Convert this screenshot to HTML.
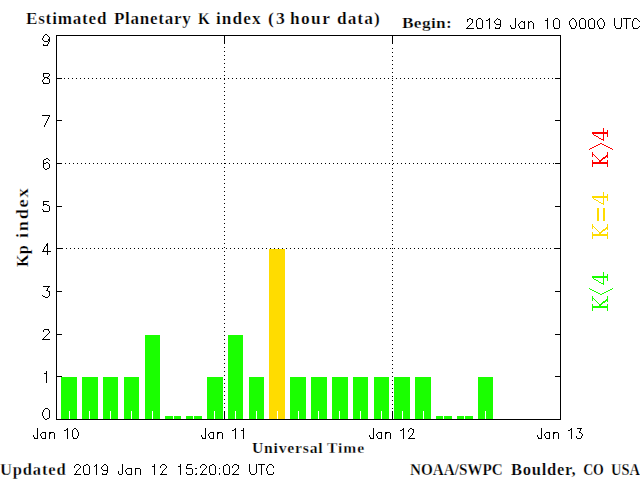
<!DOCTYPE html>
<html><head><meta charset="utf-8"><style>
html,body{margin:0;padding:0;background:#fff;width:640px;height:480px;overflow:hidden}
svg{display:block}
</style></head><body>
<svg width="640" height="480" viewBox="0 0 640 480">
<rect x="0" y="0" width="640" height="480" fill="#fff"/>
<g shape-rendering="crispEdges">
<rect x="56" y="35" width="505" height="1" fill="#000"/>
<rect x="56" y="419" width="505" height="1" fill="#000"/>
<rect x="56" y="35" width="1" height="385" fill="#000"/>
<rect x="560" y="35" width="1" height="385" fill="#000"/>
<rect x="57" y="376" width="5" height="1" fill="#000"/>
<rect x="555" y="376" width="5" height="1" fill="#000"/>
<rect x="57" y="334" width="5" height="1" fill="#000"/>
<rect x="555" y="334" width="5" height="1" fill="#000"/>
<rect x="57" y="291" width="5" height="1" fill="#000"/>
<rect x="555" y="291" width="5" height="1" fill="#000"/>
<rect x="57" y="248" width="6" height="1" fill="#000"/>
<rect x="554" y="248" width="6" height="1" fill="#000"/>
<rect x="57" y="206" width="5" height="1" fill="#000"/>
<rect x="555" y="206" width="5" height="1" fill="#000"/>
<rect x="57" y="163" width="5" height="1" fill="#000"/>
<rect x="555" y="163" width="5" height="1" fill="#000"/>
<rect x="57" y="120" width="5" height="1" fill="#000"/>
<rect x="555" y="120" width="5" height="1" fill="#000"/>
<rect x="57" y="78" width="5" height="1" fill="#000"/>
<rect x="555" y="78" width="5" height="1" fill="#000"/>
<rect x="64" y="78" width="1" height="1" fill="#000"/>
<rect x="68" y="78" width="1" height="1" fill="#000"/>
<rect x="72" y="78" width="1" height="1" fill="#000"/>
<rect x="76" y="78" width="1" height="1" fill="#000"/>
<rect x="80" y="78" width="1" height="1" fill="#000"/>
<rect x="84" y="78" width="1" height="1" fill="#000"/>
<rect x="88" y="78" width="1" height="1" fill="#000"/>
<rect x="92" y="78" width="1" height="1" fill="#000"/>
<rect x="96" y="78" width="1" height="1" fill="#000"/>
<rect x="100" y="78" width="1" height="1" fill="#000"/>
<rect x="104" y="78" width="1" height="1" fill="#000"/>
<rect x="108" y="78" width="1" height="1" fill="#000"/>
<rect x="112" y="78" width="1" height="1" fill="#000"/>
<rect x="116" y="78" width="1" height="1" fill="#000"/>
<rect x="120" y="78" width="1" height="1" fill="#000"/>
<rect x="124" y="78" width="1" height="1" fill="#000"/>
<rect x="128" y="78" width="1" height="1" fill="#000"/>
<rect x="132" y="78" width="1" height="1" fill="#000"/>
<rect x="136" y="78" width="1" height="1" fill="#000"/>
<rect x="140" y="78" width="1" height="1" fill="#000"/>
<rect x="144" y="78" width="1" height="1" fill="#000"/>
<rect x="148" y="78" width="1" height="1" fill="#000"/>
<rect x="152" y="78" width="1" height="1" fill="#000"/>
<rect x="156" y="78" width="1" height="1" fill="#000"/>
<rect x="160" y="78" width="1" height="1" fill="#000"/>
<rect x="164" y="78" width="1" height="1" fill="#000"/>
<rect x="168" y="78" width="1" height="1" fill="#000"/>
<rect x="172" y="78" width="1" height="1" fill="#000"/>
<rect x="176" y="78" width="1" height="1" fill="#000"/>
<rect x="180" y="78" width="1" height="1" fill="#000"/>
<rect x="184" y="78" width="1" height="1" fill="#000"/>
<rect x="188" y="78" width="1" height="1" fill="#000"/>
<rect x="192" y="78" width="1" height="1" fill="#000"/>
<rect x="196" y="78" width="1" height="1" fill="#000"/>
<rect x="200" y="78" width="1" height="1" fill="#000"/>
<rect x="204" y="78" width="1" height="1" fill="#000"/>
<rect x="208" y="78" width="1" height="1" fill="#000"/>
<rect x="212" y="78" width="1" height="1" fill="#000"/>
<rect x="216" y="78" width="1" height="1" fill="#000"/>
<rect x="220" y="78" width="1" height="1" fill="#000"/>
<rect x="224" y="78" width="1" height="1" fill="#000"/>
<rect x="228" y="78" width="1" height="1" fill="#000"/>
<rect x="232" y="78" width="1" height="1" fill="#000"/>
<rect x="236" y="78" width="1" height="1" fill="#000"/>
<rect x="240" y="78" width="1" height="1" fill="#000"/>
<rect x="244" y="78" width="1" height="1" fill="#000"/>
<rect x="248" y="78" width="1" height="1" fill="#000"/>
<rect x="252" y="78" width="1" height="1" fill="#000"/>
<rect x="256" y="78" width="1" height="1" fill="#000"/>
<rect x="260" y="78" width="1" height="1" fill="#000"/>
<rect x="264" y="78" width="1" height="1" fill="#000"/>
<rect x="268" y="78" width="1" height="1" fill="#000"/>
<rect x="272" y="78" width="1" height="1" fill="#000"/>
<rect x="276" y="78" width="1" height="1" fill="#000"/>
<rect x="280" y="78" width="1" height="1" fill="#000"/>
<rect x="284" y="78" width="1" height="1" fill="#000"/>
<rect x="288" y="78" width="1" height="1" fill="#000"/>
<rect x="292" y="78" width="1" height="1" fill="#000"/>
<rect x="296" y="78" width="1" height="1" fill="#000"/>
<rect x="300" y="78" width="1" height="1" fill="#000"/>
<rect x="304" y="78" width="1" height="1" fill="#000"/>
<rect x="308" y="78" width="1" height="1" fill="#000"/>
<rect x="312" y="78" width="1" height="1" fill="#000"/>
<rect x="316" y="78" width="1" height="1" fill="#000"/>
<rect x="320" y="78" width="1" height="1" fill="#000"/>
<rect x="324" y="78" width="1" height="1" fill="#000"/>
<rect x="328" y="78" width="1" height="1" fill="#000"/>
<rect x="332" y="78" width="1" height="1" fill="#000"/>
<rect x="336" y="78" width="1" height="1" fill="#000"/>
<rect x="340" y="78" width="1" height="1" fill="#000"/>
<rect x="344" y="78" width="1" height="1" fill="#000"/>
<rect x="348" y="78" width="1" height="1" fill="#000"/>
<rect x="352" y="78" width="1" height="1" fill="#000"/>
<rect x="356" y="78" width="1" height="1" fill="#000"/>
<rect x="360" y="78" width="1" height="1" fill="#000"/>
<rect x="364" y="78" width="1" height="1" fill="#000"/>
<rect x="368" y="78" width="1" height="1" fill="#000"/>
<rect x="372" y="78" width="1" height="1" fill="#000"/>
<rect x="376" y="78" width="1" height="1" fill="#000"/>
<rect x="380" y="78" width="1" height="1" fill="#000"/>
<rect x="384" y="78" width="1" height="1" fill="#000"/>
<rect x="388" y="78" width="1" height="1" fill="#000"/>
<rect x="392" y="78" width="1" height="1" fill="#000"/>
<rect x="396" y="78" width="1" height="1" fill="#000"/>
<rect x="400" y="78" width="1" height="1" fill="#000"/>
<rect x="404" y="78" width="1" height="1" fill="#000"/>
<rect x="408" y="78" width="1" height="1" fill="#000"/>
<rect x="412" y="78" width="1" height="1" fill="#000"/>
<rect x="416" y="78" width="1" height="1" fill="#000"/>
<rect x="420" y="78" width="1" height="1" fill="#000"/>
<rect x="424" y="78" width="1" height="1" fill="#000"/>
<rect x="428" y="78" width="1" height="1" fill="#000"/>
<rect x="432" y="78" width="1" height="1" fill="#000"/>
<rect x="436" y="78" width="1" height="1" fill="#000"/>
<rect x="440" y="78" width="1" height="1" fill="#000"/>
<rect x="444" y="78" width="1" height="1" fill="#000"/>
<rect x="448" y="78" width="1" height="1" fill="#000"/>
<rect x="452" y="78" width="1" height="1" fill="#000"/>
<rect x="456" y="78" width="1" height="1" fill="#000"/>
<rect x="460" y="78" width="1" height="1" fill="#000"/>
<rect x="464" y="78" width="1" height="1" fill="#000"/>
<rect x="468" y="78" width="1" height="1" fill="#000"/>
<rect x="472" y="78" width="1" height="1" fill="#000"/>
<rect x="476" y="78" width="1" height="1" fill="#000"/>
<rect x="480" y="78" width="1" height="1" fill="#000"/>
<rect x="484" y="78" width="1" height="1" fill="#000"/>
<rect x="488" y="78" width="1" height="1" fill="#000"/>
<rect x="492" y="78" width="1" height="1" fill="#000"/>
<rect x="496" y="78" width="1" height="1" fill="#000"/>
<rect x="500" y="78" width="1" height="1" fill="#000"/>
<rect x="504" y="78" width="1" height="1" fill="#000"/>
<rect x="508" y="78" width="1" height="1" fill="#000"/>
<rect x="512" y="78" width="1" height="1" fill="#000"/>
<rect x="516" y="78" width="1" height="1" fill="#000"/>
<rect x="520" y="78" width="1" height="1" fill="#000"/>
<rect x="524" y="78" width="1" height="1" fill="#000"/>
<rect x="528" y="78" width="1" height="1" fill="#000"/>
<rect x="532" y="78" width="1" height="1" fill="#000"/>
<rect x="536" y="78" width="1" height="1" fill="#000"/>
<rect x="540" y="78" width="1" height="1" fill="#000"/>
<rect x="544" y="78" width="1" height="1" fill="#000"/>
<rect x="548" y="78" width="1" height="1" fill="#000"/>
<rect x="552" y="78" width="1" height="1" fill="#000"/>
<rect x="65" y="163" width="1" height="1" fill="#000"/>
<rect x="69" y="163" width="1" height="1" fill="#000"/>
<rect x="73" y="163" width="1" height="1" fill="#000"/>
<rect x="77" y="163" width="1" height="1" fill="#000"/>
<rect x="81" y="163" width="1" height="1" fill="#000"/>
<rect x="85" y="163" width="1" height="1" fill="#000"/>
<rect x="89" y="163" width="1" height="1" fill="#000"/>
<rect x="93" y="163" width="1" height="1" fill="#000"/>
<rect x="97" y="163" width="1" height="1" fill="#000"/>
<rect x="101" y="163" width="1" height="1" fill="#000"/>
<rect x="105" y="163" width="1" height="1" fill="#000"/>
<rect x="109" y="163" width="1" height="1" fill="#000"/>
<rect x="113" y="163" width="1" height="1" fill="#000"/>
<rect x="117" y="163" width="1" height="1" fill="#000"/>
<rect x="121" y="163" width="1" height="1" fill="#000"/>
<rect x="125" y="163" width="1" height="1" fill="#000"/>
<rect x="129" y="163" width="1" height="1" fill="#000"/>
<rect x="133" y="163" width="1" height="1" fill="#000"/>
<rect x="137" y="163" width="1" height="1" fill="#000"/>
<rect x="141" y="163" width="1" height="1" fill="#000"/>
<rect x="145" y="163" width="1" height="1" fill="#000"/>
<rect x="149" y="163" width="1" height="1" fill="#000"/>
<rect x="153" y="163" width="1" height="1" fill="#000"/>
<rect x="157" y="163" width="1" height="1" fill="#000"/>
<rect x="161" y="163" width="1" height="1" fill="#000"/>
<rect x="165" y="163" width="1" height="1" fill="#000"/>
<rect x="169" y="163" width="1" height="1" fill="#000"/>
<rect x="173" y="163" width="1" height="1" fill="#000"/>
<rect x="177" y="163" width="1" height="1" fill="#000"/>
<rect x="181" y="163" width="1" height="1" fill="#000"/>
<rect x="185" y="163" width="1" height="1" fill="#000"/>
<rect x="189" y="163" width="1" height="1" fill="#000"/>
<rect x="193" y="163" width="1" height="1" fill="#000"/>
<rect x="197" y="163" width="1" height="1" fill="#000"/>
<rect x="201" y="163" width="1" height="1" fill="#000"/>
<rect x="205" y="163" width="1" height="1" fill="#000"/>
<rect x="209" y="163" width="1" height="1" fill="#000"/>
<rect x="213" y="163" width="1" height="1" fill="#000"/>
<rect x="217" y="163" width="1" height="1" fill="#000"/>
<rect x="221" y="163" width="1" height="1" fill="#000"/>
<rect x="225" y="163" width="1" height="1" fill="#000"/>
<rect x="229" y="163" width="1" height="1" fill="#000"/>
<rect x="233" y="163" width="1" height="1" fill="#000"/>
<rect x="237" y="163" width="1" height="1" fill="#000"/>
<rect x="241" y="163" width="1" height="1" fill="#000"/>
<rect x="245" y="163" width="1" height="1" fill="#000"/>
<rect x="249" y="163" width="1" height="1" fill="#000"/>
<rect x="253" y="163" width="1" height="1" fill="#000"/>
<rect x="257" y="163" width="1" height="1" fill="#000"/>
<rect x="261" y="163" width="1" height="1" fill="#000"/>
<rect x="265" y="163" width="1" height="1" fill="#000"/>
<rect x="269" y="163" width="1" height="1" fill="#000"/>
<rect x="273" y="163" width="1" height="1" fill="#000"/>
<rect x="277" y="163" width="1" height="1" fill="#000"/>
<rect x="281" y="163" width="1" height="1" fill="#000"/>
<rect x="285" y="163" width="1" height="1" fill="#000"/>
<rect x="289" y="163" width="1" height="1" fill="#000"/>
<rect x="293" y="163" width="1" height="1" fill="#000"/>
<rect x="297" y="163" width="1" height="1" fill="#000"/>
<rect x="301" y="163" width="1" height="1" fill="#000"/>
<rect x="305" y="163" width="1" height="1" fill="#000"/>
<rect x="309" y="163" width="1" height="1" fill="#000"/>
<rect x="313" y="163" width="1" height="1" fill="#000"/>
<rect x="317" y="163" width="1" height="1" fill="#000"/>
<rect x="321" y="163" width="1" height="1" fill="#000"/>
<rect x="325" y="163" width="1" height="1" fill="#000"/>
<rect x="329" y="163" width="1" height="1" fill="#000"/>
<rect x="333" y="163" width="1" height="1" fill="#000"/>
<rect x="337" y="163" width="1" height="1" fill="#000"/>
<rect x="341" y="163" width="1" height="1" fill="#000"/>
<rect x="345" y="163" width="1" height="1" fill="#000"/>
<rect x="349" y="163" width="1" height="1" fill="#000"/>
<rect x="353" y="163" width="1" height="1" fill="#000"/>
<rect x="357" y="163" width="1" height="1" fill="#000"/>
<rect x="361" y="163" width="1" height="1" fill="#000"/>
<rect x="365" y="163" width="1" height="1" fill="#000"/>
<rect x="369" y="163" width="1" height="1" fill="#000"/>
<rect x="373" y="163" width="1" height="1" fill="#000"/>
<rect x="377" y="163" width="1" height="1" fill="#000"/>
<rect x="381" y="163" width="1" height="1" fill="#000"/>
<rect x="385" y="163" width="1" height="1" fill="#000"/>
<rect x="389" y="163" width="1" height="1" fill="#000"/>
<rect x="393" y="163" width="1" height="1" fill="#000"/>
<rect x="397" y="163" width="1" height="1" fill="#000"/>
<rect x="401" y="163" width="1" height="1" fill="#000"/>
<rect x="405" y="163" width="1" height="1" fill="#000"/>
<rect x="409" y="163" width="1" height="1" fill="#000"/>
<rect x="413" y="163" width="1" height="1" fill="#000"/>
<rect x="417" y="163" width="1" height="1" fill="#000"/>
<rect x="421" y="163" width="1" height="1" fill="#000"/>
<rect x="425" y="163" width="1" height="1" fill="#000"/>
<rect x="429" y="163" width="1" height="1" fill="#000"/>
<rect x="433" y="163" width="1" height="1" fill="#000"/>
<rect x="437" y="163" width="1" height="1" fill="#000"/>
<rect x="441" y="163" width="1" height="1" fill="#000"/>
<rect x="445" y="163" width="1" height="1" fill="#000"/>
<rect x="449" y="163" width="1" height="1" fill="#000"/>
<rect x="453" y="163" width="1" height="1" fill="#000"/>
<rect x="457" y="163" width="1" height="1" fill="#000"/>
<rect x="461" y="163" width="1" height="1" fill="#000"/>
<rect x="465" y="163" width="1" height="1" fill="#000"/>
<rect x="469" y="163" width="1" height="1" fill="#000"/>
<rect x="473" y="163" width="1" height="1" fill="#000"/>
<rect x="477" y="163" width="1" height="1" fill="#000"/>
<rect x="481" y="163" width="1" height="1" fill="#000"/>
<rect x="485" y="163" width="1" height="1" fill="#000"/>
<rect x="489" y="163" width="1" height="1" fill="#000"/>
<rect x="493" y="163" width="1" height="1" fill="#000"/>
<rect x="497" y="163" width="1" height="1" fill="#000"/>
<rect x="501" y="163" width="1" height="1" fill="#000"/>
<rect x="505" y="163" width="1" height="1" fill="#000"/>
<rect x="509" y="163" width="1" height="1" fill="#000"/>
<rect x="513" y="163" width="1" height="1" fill="#000"/>
<rect x="517" y="163" width="1" height="1" fill="#000"/>
<rect x="521" y="163" width="1" height="1" fill="#000"/>
<rect x="525" y="163" width="1" height="1" fill="#000"/>
<rect x="529" y="163" width="1" height="1" fill="#000"/>
<rect x="533" y="163" width="1" height="1" fill="#000"/>
<rect x="537" y="163" width="1" height="1" fill="#000"/>
<rect x="541" y="163" width="1" height="1" fill="#000"/>
<rect x="545" y="163" width="1" height="1" fill="#000"/>
<rect x="549" y="163" width="1" height="1" fill="#000"/>
<rect x="553" y="163" width="1" height="1" fill="#000"/>
<rect x="66" y="248" width="1" height="1" fill="#000"/>
<rect x="70" y="248" width="1" height="1" fill="#000"/>
<rect x="74" y="248" width="1" height="1" fill="#000"/>
<rect x="78" y="248" width="1" height="1" fill="#000"/>
<rect x="82" y="248" width="1" height="1" fill="#000"/>
<rect x="86" y="248" width="1" height="1" fill="#000"/>
<rect x="90" y="248" width="1" height="1" fill="#000"/>
<rect x="94" y="248" width="1" height="1" fill="#000"/>
<rect x="98" y="248" width="1" height="1" fill="#000"/>
<rect x="102" y="248" width="1" height="1" fill="#000"/>
<rect x="106" y="248" width="1" height="1" fill="#000"/>
<rect x="110" y="248" width="1" height="1" fill="#000"/>
<rect x="114" y="248" width="1" height="1" fill="#000"/>
<rect x="118" y="248" width="1" height="1" fill="#000"/>
<rect x="122" y="248" width="1" height="1" fill="#000"/>
<rect x="126" y="248" width="1" height="1" fill="#000"/>
<rect x="130" y="248" width="1" height="1" fill="#000"/>
<rect x="134" y="248" width="1" height="1" fill="#000"/>
<rect x="138" y="248" width="1" height="1" fill="#000"/>
<rect x="142" y="248" width="1" height="1" fill="#000"/>
<rect x="146" y="248" width="1" height="1" fill="#000"/>
<rect x="150" y="248" width="1" height="1" fill="#000"/>
<rect x="154" y="248" width="1" height="1" fill="#000"/>
<rect x="158" y="248" width="1" height="1" fill="#000"/>
<rect x="162" y="248" width="1" height="1" fill="#000"/>
<rect x="166" y="248" width="1" height="1" fill="#000"/>
<rect x="170" y="248" width="1" height="1" fill="#000"/>
<rect x="174" y="248" width="1" height="1" fill="#000"/>
<rect x="178" y="248" width="1" height="1" fill="#000"/>
<rect x="182" y="248" width="1" height="1" fill="#000"/>
<rect x="186" y="248" width="1" height="1" fill="#000"/>
<rect x="190" y="248" width="1" height="1" fill="#000"/>
<rect x="194" y="248" width="1" height="1" fill="#000"/>
<rect x="198" y="248" width="1" height="1" fill="#000"/>
<rect x="202" y="248" width="1" height="1" fill="#000"/>
<rect x="206" y="248" width="1" height="1" fill="#000"/>
<rect x="210" y="248" width="1" height="1" fill="#000"/>
<rect x="214" y="248" width="1" height="1" fill="#000"/>
<rect x="218" y="248" width="1" height="1" fill="#000"/>
<rect x="222" y="248" width="1" height="1" fill="#000"/>
<rect x="226" y="248" width="1" height="1" fill="#000"/>
<rect x="230" y="248" width="1" height="1" fill="#000"/>
<rect x="234" y="248" width="1" height="1" fill="#000"/>
<rect x="238" y="248" width="1" height="1" fill="#000"/>
<rect x="242" y="248" width="1" height="1" fill="#000"/>
<rect x="246" y="248" width="1" height="1" fill="#000"/>
<rect x="250" y="248" width="1" height="1" fill="#000"/>
<rect x="254" y="248" width="1" height="1" fill="#000"/>
<rect x="258" y="248" width="1" height="1" fill="#000"/>
<rect x="262" y="248" width="1" height="1" fill="#000"/>
<rect x="266" y="248" width="1" height="1" fill="#000"/>
<rect x="270" y="248" width="1" height="1" fill="#000"/>
<rect x="274" y="248" width="1" height="1" fill="#000"/>
<rect x="278" y="248" width="1" height="1" fill="#000"/>
<rect x="282" y="248" width="1" height="1" fill="#000"/>
<rect x="286" y="248" width="1" height="1" fill="#000"/>
<rect x="290" y="248" width="1" height="1" fill="#000"/>
<rect x="294" y="248" width="1" height="1" fill="#000"/>
<rect x="298" y="248" width="1" height="1" fill="#000"/>
<rect x="302" y="248" width="1" height="1" fill="#000"/>
<rect x="306" y="248" width="1" height="1" fill="#000"/>
<rect x="310" y="248" width="1" height="1" fill="#000"/>
<rect x="314" y="248" width="1" height="1" fill="#000"/>
<rect x="318" y="248" width="1" height="1" fill="#000"/>
<rect x="322" y="248" width="1" height="1" fill="#000"/>
<rect x="326" y="248" width="1" height="1" fill="#000"/>
<rect x="330" y="248" width="1" height="1" fill="#000"/>
<rect x="334" y="248" width="1" height="1" fill="#000"/>
<rect x="338" y="248" width="1" height="1" fill="#000"/>
<rect x="342" y="248" width="1" height="1" fill="#000"/>
<rect x="346" y="248" width="1" height="1" fill="#000"/>
<rect x="350" y="248" width="1" height="1" fill="#000"/>
<rect x="354" y="248" width="1" height="1" fill="#000"/>
<rect x="358" y="248" width="1" height="1" fill="#000"/>
<rect x="362" y="248" width="1" height="1" fill="#000"/>
<rect x="366" y="248" width="1" height="1" fill="#000"/>
<rect x="370" y="248" width="1" height="1" fill="#000"/>
<rect x="374" y="248" width="1" height="1" fill="#000"/>
<rect x="378" y="248" width="1" height="1" fill="#000"/>
<rect x="382" y="248" width="1" height="1" fill="#000"/>
<rect x="386" y="248" width="1" height="1" fill="#000"/>
<rect x="390" y="248" width="1" height="1" fill="#000"/>
<rect x="394" y="248" width="1" height="1" fill="#000"/>
<rect x="398" y="248" width="1" height="1" fill="#000"/>
<rect x="402" y="248" width="1" height="1" fill="#000"/>
<rect x="406" y="248" width="1" height="1" fill="#000"/>
<rect x="410" y="248" width="1" height="1" fill="#000"/>
<rect x="414" y="248" width="1" height="1" fill="#000"/>
<rect x="418" y="248" width="1" height="1" fill="#000"/>
<rect x="422" y="248" width="1" height="1" fill="#000"/>
<rect x="426" y="248" width="1" height="1" fill="#000"/>
<rect x="430" y="248" width="1" height="1" fill="#000"/>
<rect x="434" y="248" width="1" height="1" fill="#000"/>
<rect x="438" y="248" width="1" height="1" fill="#000"/>
<rect x="442" y="248" width="1" height="1" fill="#000"/>
<rect x="446" y="248" width="1" height="1" fill="#000"/>
<rect x="450" y="248" width="1" height="1" fill="#000"/>
<rect x="454" y="248" width="1" height="1" fill="#000"/>
<rect x="458" y="248" width="1" height="1" fill="#000"/>
<rect x="462" y="248" width="1" height="1" fill="#000"/>
<rect x="466" y="248" width="1" height="1" fill="#000"/>
<rect x="470" y="248" width="1" height="1" fill="#000"/>
<rect x="474" y="248" width="1" height="1" fill="#000"/>
<rect x="478" y="248" width="1" height="1" fill="#000"/>
<rect x="482" y="248" width="1" height="1" fill="#000"/>
<rect x="486" y="248" width="1" height="1" fill="#000"/>
<rect x="490" y="248" width="1" height="1" fill="#000"/>
<rect x="494" y="248" width="1" height="1" fill="#000"/>
<rect x="498" y="248" width="1" height="1" fill="#000"/>
<rect x="502" y="248" width="1" height="1" fill="#000"/>
<rect x="506" y="248" width="1" height="1" fill="#000"/>
<rect x="510" y="248" width="1" height="1" fill="#000"/>
<rect x="514" y="248" width="1" height="1" fill="#000"/>
<rect x="518" y="248" width="1" height="1" fill="#000"/>
<rect x="522" y="248" width="1" height="1" fill="#000"/>
<rect x="526" y="248" width="1" height="1" fill="#000"/>
<rect x="530" y="248" width="1" height="1" fill="#000"/>
<rect x="534" y="248" width="1" height="1" fill="#000"/>
<rect x="538" y="248" width="1" height="1" fill="#000"/>
<rect x="542" y="248" width="1" height="1" fill="#000"/>
<rect x="546" y="248" width="1" height="1" fill="#000"/>
<rect x="550" y="248" width="1" height="1" fill="#000"/>
<rect x="224" y="36" width="1" height="8" fill="#000"/>
<rect x="224" y="411" width="1" height="8" fill="#000"/>
<rect x="224" y="47" width="1" height="1" fill="#000"/>
<rect x="224" y="51" width="1" height="1" fill="#000"/>
<rect x="224" y="55" width="1" height="1" fill="#000"/>
<rect x="224" y="59" width="1" height="1" fill="#000"/>
<rect x="224" y="63" width="1" height="1" fill="#000"/>
<rect x="224" y="67" width="1" height="1" fill="#000"/>
<rect x="224" y="71" width="1" height="1" fill="#000"/>
<rect x="224" y="75" width="1" height="1" fill="#000"/>
<rect x="224" y="79" width="1" height="1" fill="#000"/>
<rect x="224" y="83" width="1" height="1" fill="#000"/>
<rect x="224" y="87" width="1" height="1" fill="#000"/>
<rect x="224" y="91" width="1" height="1" fill="#000"/>
<rect x="224" y="95" width="1" height="1" fill="#000"/>
<rect x="224" y="99" width="1" height="1" fill="#000"/>
<rect x="224" y="103" width="1" height="1" fill="#000"/>
<rect x="224" y="107" width="1" height="1" fill="#000"/>
<rect x="224" y="111" width="1" height="1" fill="#000"/>
<rect x="224" y="115" width="1" height="1" fill="#000"/>
<rect x="224" y="119" width="1" height="1" fill="#000"/>
<rect x="224" y="123" width="1" height="1" fill="#000"/>
<rect x="224" y="127" width="1" height="1" fill="#000"/>
<rect x="224" y="131" width="1" height="1" fill="#000"/>
<rect x="224" y="135" width="1" height="1" fill="#000"/>
<rect x="224" y="139" width="1" height="1" fill="#000"/>
<rect x="224" y="143" width="1" height="1" fill="#000"/>
<rect x="224" y="147" width="1" height="1" fill="#000"/>
<rect x="224" y="151" width="1" height="1" fill="#000"/>
<rect x="224" y="155" width="1" height="1" fill="#000"/>
<rect x="224" y="159" width="1" height="1" fill="#000"/>
<rect x="224" y="163" width="1" height="1" fill="#000"/>
<rect x="224" y="167" width="1" height="1" fill="#000"/>
<rect x="224" y="171" width="1" height="1" fill="#000"/>
<rect x="224" y="175" width="1" height="1" fill="#000"/>
<rect x="224" y="179" width="1" height="1" fill="#000"/>
<rect x="224" y="183" width="1" height="1" fill="#000"/>
<rect x="224" y="187" width="1" height="1" fill="#000"/>
<rect x="224" y="191" width="1" height="1" fill="#000"/>
<rect x="224" y="195" width="1" height="1" fill="#000"/>
<rect x="224" y="199" width="1" height="1" fill="#000"/>
<rect x="224" y="203" width="1" height="1" fill="#000"/>
<rect x="224" y="207" width="1" height="1" fill="#000"/>
<rect x="224" y="211" width="1" height="1" fill="#000"/>
<rect x="224" y="215" width="1" height="1" fill="#000"/>
<rect x="224" y="219" width="1" height="1" fill="#000"/>
<rect x="224" y="223" width="1" height="1" fill="#000"/>
<rect x="224" y="227" width="1" height="1" fill="#000"/>
<rect x="224" y="231" width="1" height="1" fill="#000"/>
<rect x="224" y="235" width="1" height="1" fill="#000"/>
<rect x="224" y="239" width="1" height="1" fill="#000"/>
<rect x="224" y="243" width="1" height="1" fill="#000"/>
<rect x="224" y="247" width="1" height="1" fill="#000"/>
<rect x="224" y="251" width="1" height="1" fill="#000"/>
<rect x="224" y="255" width="1" height="1" fill="#000"/>
<rect x="224" y="259" width="1" height="1" fill="#000"/>
<rect x="224" y="263" width="1" height="1" fill="#000"/>
<rect x="224" y="267" width="1" height="1" fill="#000"/>
<rect x="224" y="271" width="1" height="1" fill="#000"/>
<rect x="224" y="275" width="1" height="1" fill="#000"/>
<rect x="224" y="279" width="1" height="1" fill="#000"/>
<rect x="224" y="283" width="1" height="1" fill="#000"/>
<rect x="224" y="287" width="1" height="1" fill="#000"/>
<rect x="224" y="291" width="1" height="1" fill="#000"/>
<rect x="224" y="295" width="1" height="1" fill="#000"/>
<rect x="224" y="299" width="1" height="1" fill="#000"/>
<rect x="224" y="303" width="1" height="1" fill="#000"/>
<rect x="224" y="307" width="1" height="1" fill="#000"/>
<rect x="224" y="311" width="1" height="1" fill="#000"/>
<rect x="224" y="315" width="1" height="1" fill="#000"/>
<rect x="224" y="319" width="1" height="1" fill="#000"/>
<rect x="224" y="323" width="1" height="1" fill="#000"/>
<rect x="224" y="327" width="1" height="1" fill="#000"/>
<rect x="224" y="331" width="1" height="1" fill="#000"/>
<rect x="224" y="335" width="1" height="1" fill="#000"/>
<rect x="224" y="339" width="1" height="1" fill="#000"/>
<rect x="224" y="343" width="1" height="1" fill="#000"/>
<rect x="224" y="347" width="1" height="1" fill="#000"/>
<rect x="224" y="351" width="1" height="1" fill="#000"/>
<rect x="224" y="355" width="1" height="1" fill="#000"/>
<rect x="224" y="359" width="1" height="1" fill="#000"/>
<rect x="224" y="363" width="1" height="1" fill="#000"/>
<rect x="224" y="367" width="1" height="1" fill="#000"/>
<rect x="224" y="371" width="1" height="1" fill="#000"/>
<rect x="224" y="375" width="1" height="1" fill="#000"/>
<rect x="224" y="379" width="1" height="1" fill="#000"/>
<rect x="224" y="383" width="1" height="1" fill="#000"/>
<rect x="224" y="387" width="1" height="1" fill="#000"/>
<rect x="224" y="391" width="1" height="1" fill="#000"/>
<rect x="224" y="395" width="1" height="1" fill="#000"/>
<rect x="224" y="399" width="1" height="1" fill="#000"/>
<rect x="224" y="403" width="1" height="1" fill="#000"/>
<rect x="224" y="407" width="1" height="1" fill="#000"/>
<rect x="392" y="36" width="1" height="8" fill="#000"/>
<rect x="392" y="411" width="1" height="8" fill="#000"/>
<rect x="392" y="48" width="1" height="1" fill="#000"/>
<rect x="392" y="52" width="1" height="1" fill="#000"/>
<rect x="392" y="56" width="1" height="1" fill="#000"/>
<rect x="392" y="60" width="1" height="1" fill="#000"/>
<rect x="392" y="64" width="1" height="1" fill="#000"/>
<rect x="392" y="68" width="1" height="1" fill="#000"/>
<rect x="392" y="72" width="1" height="1" fill="#000"/>
<rect x="392" y="76" width="1" height="1" fill="#000"/>
<rect x="392" y="80" width="1" height="1" fill="#000"/>
<rect x="392" y="84" width="1" height="1" fill="#000"/>
<rect x="392" y="88" width="1" height="1" fill="#000"/>
<rect x="392" y="92" width="1" height="1" fill="#000"/>
<rect x="392" y="96" width="1" height="1" fill="#000"/>
<rect x="392" y="100" width="1" height="1" fill="#000"/>
<rect x="392" y="104" width="1" height="1" fill="#000"/>
<rect x="392" y="108" width="1" height="1" fill="#000"/>
<rect x="392" y="112" width="1" height="1" fill="#000"/>
<rect x="392" y="116" width="1" height="1" fill="#000"/>
<rect x="392" y="120" width="1" height="1" fill="#000"/>
<rect x="392" y="124" width="1" height="1" fill="#000"/>
<rect x="392" y="128" width="1" height="1" fill="#000"/>
<rect x="392" y="132" width="1" height="1" fill="#000"/>
<rect x="392" y="136" width="1" height="1" fill="#000"/>
<rect x="392" y="140" width="1" height="1" fill="#000"/>
<rect x="392" y="144" width="1" height="1" fill="#000"/>
<rect x="392" y="148" width="1" height="1" fill="#000"/>
<rect x="392" y="152" width="1" height="1" fill="#000"/>
<rect x="392" y="156" width="1" height="1" fill="#000"/>
<rect x="392" y="160" width="1" height="1" fill="#000"/>
<rect x="392" y="164" width="1" height="1" fill="#000"/>
<rect x="392" y="168" width="1" height="1" fill="#000"/>
<rect x="392" y="172" width="1" height="1" fill="#000"/>
<rect x="392" y="176" width="1" height="1" fill="#000"/>
<rect x="392" y="180" width="1" height="1" fill="#000"/>
<rect x="392" y="184" width="1" height="1" fill="#000"/>
<rect x="392" y="188" width="1" height="1" fill="#000"/>
<rect x="392" y="192" width="1" height="1" fill="#000"/>
<rect x="392" y="196" width="1" height="1" fill="#000"/>
<rect x="392" y="200" width="1" height="1" fill="#000"/>
<rect x="392" y="204" width="1" height="1" fill="#000"/>
<rect x="392" y="208" width="1" height="1" fill="#000"/>
<rect x="392" y="212" width="1" height="1" fill="#000"/>
<rect x="392" y="216" width="1" height="1" fill="#000"/>
<rect x="392" y="220" width="1" height="1" fill="#000"/>
<rect x="392" y="224" width="1" height="1" fill="#000"/>
<rect x="392" y="228" width="1" height="1" fill="#000"/>
<rect x="392" y="232" width="1" height="1" fill="#000"/>
<rect x="392" y="236" width="1" height="1" fill="#000"/>
<rect x="392" y="240" width="1" height="1" fill="#000"/>
<rect x="392" y="244" width="1" height="1" fill="#000"/>
<rect x="392" y="248" width="1" height="1" fill="#000"/>
<rect x="392" y="252" width="1" height="1" fill="#000"/>
<rect x="392" y="256" width="1" height="1" fill="#000"/>
<rect x="392" y="260" width="1" height="1" fill="#000"/>
<rect x="392" y="264" width="1" height="1" fill="#000"/>
<rect x="392" y="268" width="1" height="1" fill="#000"/>
<rect x="392" y="272" width="1" height="1" fill="#000"/>
<rect x="392" y="276" width="1" height="1" fill="#000"/>
<rect x="392" y="280" width="1" height="1" fill="#000"/>
<rect x="392" y="284" width="1" height="1" fill="#000"/>
<rect x="392" y="288" width="1" height="1" fill="#000"/>
<rect x="392" y="292" width="1" height="1" fill="#000"/>
<rect x="392" y="296" width="1" height="1" fill="#000"/>
<rect x="392" y="300" width="1" height="1" fill="#000"/>
<rect x="392" y="304" width="1" height="1" fill="#000"/>
<rect x="392" y="308" width="1" height="1" fill="#000"/>
<rect x="392" y="312" width="1" height="1" fill="#000"/>
<rect x="392" y="316" width="1" height="1" fill="#000"/>
<rect x="392" y="320" width="1" height="1" fill="#000"/>
<rect x="392" y="324" width="1" height="1" fill="#000"/>
<rect x="392" y="328" width="1" height="1" fill="#000"/>
<rect x="392" y="332" width="1" height="1" fill="#000"/>
<rect x="392" y="336" width="1" height="1" fill="#000"/>
<rect x="392" y="340" width="1" height="1" fill="#000"/>
<rect x="392" y="344" width="1" height="1" fill="#000"/>
<rect x="392" y="348" width="1" height="1" fill="#000"/>
<rect x="392" y="352" width="1" height="1" fill="#000"/>
<rect x="392" y="356" width="1" height="1" fill="#000"/>
<rect x="392" y="360" width="1" height="1" fill="#000"/>
<rect x="392" y="364" width="1" height="1" fill="#000"/>
<rect x="392" y="368" width="1" height="1" fill="#000"/>
<rect x="392" y="372" width="1" height="1" fill="#000"/>
<rect x="392" y="376" width="1" height="1" fill="#000"/>
<rect x="392" y="380" width="1" height="1" fill="#000"/>
<rect x="392" y="384" width="1" height="1" fill="#000"/>
<rect x="392" y="388" width="1" height="1" fill="#000"/>
<rect x="392" y="392" width="1" height="1" fill="#000"/>
<rect x="392" y="396" width="1" height="1" fill="#000"/>
<rect x="392" y="400" width="1" height="1" fill="#000"/>
<rect x="392" y="404" width="1" height="1" fill="#000"/>
<rect x="392" y="408" width="1" height="1" fill="#000"/>
<rect x="61" y="377" width="16" height="42" fill="#1aff00"/>
<rect x="69" y="411" width="1" height="8" fill="#fff"/>
<rect x="82" y="377" width="16" height="42" fill="#1aff00"/>
<rect x="89" y="411" width="1" height="8" fill="#fff"/>
<rect x="103" y="377" width="15" height="42" fill="#1aff00"/>
<rect x="110" y="411" width="1" height="8" fill="#fff"/>
<rect x="124" y="377" width="15" height="42" fill="#1aff00"/>
<rect x="131" y="411" width="1" height="8" fill="#fff"/>
<rect x="145" y="335" width="15" height="84" fill="#1aff00"/>
<rect x="152" y="411" width="1" height="8" fill="#fff"/>
<rect x="165" y="416" width="16" height="3" fill="#1aff00"/>
<rect x="173" y="416" width="1" height="3" fill="#fff"/>
<rect x="186" y="416" width="16" height="3" fill="#1aff00"/>
<rect x="193" y="416" width="1" height="3" fill="#fff"/>
<rect x="207" y="377" width="16" height="42" fill="#1aff00"/>
<rect x="214" y="411" width="1" height="8" fill="#fff"/>
<rect x="228" y="335" width="15" height="84" fill="#1aff00"/>
<rect x="235" y="411" width="1" height="8" fill="#fff"/>
<rect x="249" y="377" width="15" height="42" fill="#1aff00"/>
<rect x="256" y="411" width="1" height="8" fill="#fff"/>
<rect x="269" y="249" width="16" height="170" fill="#ffdc00"/>
<rect x="277" y="411" width="1" height="8" fill="#fff"/>
<rect x="290" y="377" width="16" height="42" fill="#1aff00"/>
<rect x="298" y="411" width="1" height="8" fill="#fff"/>
<rect x="311" y="377" width="16" height="42" fill="#1aff00"/>
<rect x="318" y="411" width="1" height="8" fill="#fff"/>
<rect x="332" y="377" width="16" height="42" fill="#1aff00"/>
<rect x="339" y="411" width="1" height="8" fill="#fff"/>
<rect x="353" y="377" width="15" height="42" fill="#1aff00"/>
<rect x="360" y="411" width="1" height="8" fill="#fff"/>
<rect x="374" y="377" width="15" height="42" fill="#1aff00"/>
<rect x="381" y="411" width="1" height="8" fill="#fff"/>
<rect x="394" y="377" width="16" height="42" fill="#1aff00"/>
<rect x="402" y="411" width="1" height="8" fill="#fff"/>
<rect x="415" y="377" width="16" height="42" fill="#1aff00"/>
<rect x="423" y="411" width="1" height="8" fill="#fff"/>
<rect x="436" y="416" width="16" height="3" fill="#1aff00"/>
<rect x="443" y="416" width="1" height="3" fill="#fff"/>
<rect x="457" y="416" width="16" height="3" fill="#1aff00"/>
<rect x="464" y="416" width="1" height="3" fill="#fff"/>
<rect x="478" y="377" width="15" height="42" fill="#1aff00"/>
<rect x="485" y="411" width="1" height="8" fill="#fff"/>
</g>
<g transform="translate(25.96,24) scale(1.0386,1)"><text x="0" y="0" font-family="Liberation Serif" font-weight="bold" font-size="16.5" fill="#000" stroke="#fff" stroke-width="0.25" textLength="77.57" lengthAdjust="spacing">Estimated</text></g>
<g transform="translate(113.96,24) scale(1.0353,1)"><text x="0" y="0" font-family="Liberation Serif" font-weight="bold" font-size="16.5" fill="#000" stroke="#fff" stroke-width="0.25" textLength="74.14" lengthAdjust="spacing">Planetary</text></g>
<text x="198.08" y="24" font-family="Liberation Serif" font-weight="bold" font-size="16.5" fill="#000" stroke="#fff" stroke-width="0.25" textLength="11.77" lengthAdjust="spacingAndGlyphs">K</text>
<g transform="translate(215.95,24) scale(1.0486,1)"><text x="0" y="0" font-family="Liberation Serif" font-weight="bold" font-size="16.5" fill="#000" stroke="#fff" stroke-width="0.25" textLength="42.52" lengthAdjust="spacing">index</text></g>
<g transform="translate(267.93,24) scale(1.0750,1)"><text x="0" y="0" font-family="Liberation Serif" font-weight="bold" font-size="16.5" fill="#000" stroke="#fff" stroke-width="0.25" textLength="15.70" lengthAdjust="spacing">(3</text></g>
<g transform="translate(289.95,24) scale(1.0545,1)"><text x="0" y="0" font-family="Liberation Serif" font-weight="bold" font-size="16.5" fill="#000" stroke="#fff" stroke-width="0.25" textLength="37.92" lengthAdjust="spacing">hour</text></g>
<g transform="translate(336.95,24) scale(1.0514,1)"><text x="0" y="0" font-family="Liberation Serif" font-weight="bold" font-size="16.5" fill="#000" stroke="#fff" stroke-width="0.25" textLength="40.67" lengthAdjust="spacing">data)</text></g>
<g transform="translate(402.00,28) scale(1.1561,1)"><text x="0" y="0" font-family="Liberation Serif" font-weight="bold" font-size="15" fill="#000" stroke="#fff" stroke-width="0.25" textLength="43.06" lengthAdjust="spacing">Begin:</text></g>
<g transform="translate(251.96,453) scale(1.0450,1)"><text x="0" y="0" font-family="Liberation Serif" font-weight="bold" font-size="15" fill="#000" stroke="#fff" stroke-width="0.25" textLength="67.70" lengthAdjust="spacing">Universal</text></g>
<g transform="translate(327.00,453) scale(1.0364,1)"><text x="0" y="0" font-family="Liberation Serif" font-weight="bold" font-size="15" fill="#000" stroke="#fff" stroke-width="0.25" textLength="35.76" lengthAdjust="spacing">Time</text></g>
<g transform="translate(-0.04,475) scale(1.0362,1)"><text x="0" y="0" font-family="Liberation Serif" font-weight="bold" font-size="16" fill="#000" stroke="#fff" stroke-width="0.25" textLength="63.42" lengthAdjust="spacing">Updated</text></g>
<text x="410.05" y="475" font-family="Liberation Serif" font-weight="bold" font-size="16" fill="#000" stroke="#fff" stroke-width="0.25" textLength="92.69" lengthAdjust="spacingAndGlyphs">NOAA/SWPC</text>
<g transform="translate(511.00,475) scale(1.0368,1)"><text x="0" y="0" font-family="Liberation Serif" font-weight="bold" font-size="16" fill="#000" stroke="#fff" stroke-width="0.25" textLength="62.38" lengthAdjust="spacing">Boulder,</text></g>
<text x="583.14" y="475" font-family="Liberation Serif" font-weight="bold" font-size="16" fill="#000" stroke="#fff" stroke-width="0.25" textLength="20.73" lengthAdjust="spacingAndGlyphs">CO</text>
<text x="611.10" y="475" font-family="Liberation Serif" font-weight="bold" font-size="16" fill="#000" stroke="#fff" stroke-width="0.25" textLength="28.92" lengthAdjust="spacingAndGlyphs">USA</text>
<g transform="translate(27.5,266.95) rotate(-90)"><text x="0.00" y="0" font-family="Liberation Serif" font-weight="bold" font-size="17" fill="#000" stroke="#fff" stroke-width="0.25" textLength="21.61" lengthAdjust="spacingAndGlyphs">Kp</text></g>
<g transform="translate(27.5,238.08) rotate(-90) scale(1.0769,1)"><text x="0" y="0" font-family="Liberation Serif" font-weight="bold" font-size="17" fill="#000" stroke="#fff" stroke-width="0.25" textLength="46.19" lengthAdjust="spacing">index</text></g>
<g fill="#000" shape-rendering="crispEdges"><rect x="469" y="18" width="2" height="1"/><rect x="478" y="18" width="3" height="1"/><rect x="489" y="18" width="1" height="1"/><rect x="497" y="18" width="1" height="1"/><rect x="515" y="18" width="1" height="1"/><rect x="547" y="18" width="1" height="1"/><rect x="555" y="18" width="3" height="1"/><rect x="572" y="18" width="2" height="1"/><rect x="581" y="18" width="3" height="1"/><rect x="591" y="18" width="2" height="1"/><rect x="600" y="18" width="2" height="1"/><rect x="614" y="18" width="1" height="1"/><rect x="621" y="18" width="1" height="1"/><rect x="623" y="18" width="8" height="1"/><rect x="634" y="18" width="3" height="1"/><rect x="467" y="19" width="2" height="1"/><rect x="471" y="19" width="2" height="1"/><rect x="477" y="19" width="1" height="1"/><rect x="481" y="19" width="1" height="1"/><rect x="488" y="19" width="2" height="1"/><rect x="496" y="19" width="1" height="1"/><rect x="498" y="19" width="2" height="1"/><rect x="515" y="19" width="1" height="1"/><rect x="547" y="19" width="1" height="1"/><rect x="554" y="19" width="1" height="1"/><rect x="558" y="19" width="1" height="1"/><rect x="571" y="19" width="1" height="1"/><rect x="574" y="19" width="1" height="1"/><rect x="580" y="19" width="1" height="1"/><rect x="584" y="19" width="1" height="1"/><rect x="589" y="19" width="2" height="1"/><rect x="593" y="19" width="1" height="1"/><rect x="599" y="19" width="1" height="1"/><rect x="602" y="19" width="1" height="1"/><rect x="614" y="19" width="1" height="1"/><rect x="621" y="19" width="1" height="1"/><rect x="626" y="19" width="1" height="1"/><rect x="633" y="19" width="1" height="1"/><rect x="637" y="19" width="1" height="1"/><rect x="467" y="20" width="1" height="1"/><rect x="472" y="20" width="1" height="1"/><rect x="476" y="20" width="1" height="1"/><rect x="482" y="20" width="1" height="1"/><rect x="486" y="20" width="2" height="1"/><rect x="489" y="20" width="1" height="1"/><rect x="495" y="20" width="1" height="1"/><rect x="500" y="20" width="1" height="1"/><rect x="515" y="20" width="1" height="1"/><rect x="545" y="20" width="3" height="1"/><rect x="553" y="20" width="1" height="1"/><rect x="559" y="20" width="1" height="1"/><rect x="570" y="20" width="1" height="1"/><rect x="575" y="20" width="1" height="1"/><rect x="579" y="20" width="1" height="1"/><rect x="585" y="20" width="1" height="1"/><rect x="588" y="20" width="1" height="1"/><rect x="594" y="20" width="1" height="1"/><rect x="598" y="20" width="1" height="1"/><rect x="603" y="20" width="1" height="1"/><rect x="614" y="20" width="1" height="1"/><rect x="621" y="20" width="1" height="1"/><rect x="626" y="20" width="1" height="1"/><rect x="633" y="20" width="1" height="1"/><rect x="638" y="20" width="1" height="1"/><rect x="467" y="21" width="1" height="1"/><rect x="472" y="21" width="1" height="1"/><rect x="476" y="21" width="1" height="1"/><rect x="482" y="21" width="1" height="1"/><rect x="489" y="21" width="1" height="1"/><rect x="494" y="21" width="1" height="1"/><rect x="500" y="21" width="1" height="1"/><rect x="515" y="21" width="1" height="1"/><rect x="521" y="21" width="2" height="1"/><rect x="524" y="21" width="1" height="1"/><rect x="528" y="21" width="1" height="1"/><rect x="530" y="21" width="2" height="1"/><rect x="547" y="21" width="1" height="1"/><rect x="553" y="21" width="1" height="1"/><rect x="559" y="21" width="1" height="1"/><rect x="569" y="21" width="1" height="1"/><rect x="575" y="21" width="1" height="1"/><rect x="579" y="21" width="1" height="1"/><rect x="585" y="21" width="1" height="1"/><rect x="588" y="21" width="1" height="1"/><rect x="594" y="21" width="1" height="1"/><rect x="597" y="21" width="1" height="1"/><rect x="603" y="21" width="1" height="1"/><rect x="614" y="21" width="1" height="1"/><rect x="621" y="21" width="1" height="1"/><rect x="626" y="21" width="1" height="1"/><rect x="632" y="21" width="1" height="1"/><rect x="639" y="21" width="1" height="1"/><rect x="472" y="22" width="1" height="1"/><rect x="476" y="22" width="1" height="1"/><rect x="482" y="22" width="1" height="1"/><rect x="489" y="22" width="1" height="1"/><rect x="494" y="22" width="1" height="1"/><rect x="500" y="22" width="1" height="1"/><rect x="515" y="22" width="1" height="1"/><rect x="520" y="22" width="1" height="1"/><rect x="523" y="22" width="2" height="1"/><rect x="528" y="22" width="2" height="1"/><rect x="532" y="22" width="1" height="1"/><rect x="547" y="22" width="1" height="1"/><rect x="553" y="22" width="1" height="1"/><rect x="559" y="22" width="1" height="1"/><rect x="569" y="22" width="1" height="1"/><rect x="576" y="22" width="1" height="1"/><rect x="579" y="22" width="1" height="1"/><rect x="585" y="22" width="1" height="1"/><rect x="588" y="22" width="1" height="1"/><rect x="594" y="22" width="1" height="1"/><rect x="597" y="22" width="1" height="1"/><rect x="604" y="22" width="1" height="1"/><rect x="614" y="22" width="1" height="1"/><rect x="621" y="22" width="1" height="1"/><rect x="626" y="22" width="1" height="1"/><rect x="632" y="22" width="1" height="1"/><rect x="471" y="23" width="1" height="1"/><rect x="476" y="23" width="1" height="1"/><rect x="482" y="23" width="1" height="1"/><rect x="489" y="23" width="1" height="1"/><rect x="495" y="23" width="1" height="1"/><rect x="500" y="23" width="1" height="1"/><rect x="515" y="23" width="1" height="1"/><rect x="519" y="23" width="1" height="1"/><rect x="524" y="23" width="1" height="1"/><rect x="528" y="23" width="1" height="1"/><rect x="533" y="23" width="1" height="1"/><rect x="547" y="23" width="1" height="1"/><rect x="553" y="23" width="1" height="1"/><rect x="559" y="23" width="1" height="1"/><rect x="569" y="23" width="1" height="1"/><rect x="576" y="23" width="1" height="1"/><rect x="579" y="23" width="1" height="1"/><rect x="585" y="23" width="1" height="1"/><rect x="588" y="23" width="1" height="1"/><rect x="594" y="23" width="1" height="1"/><rect x="597" y="23" width="1" height="1"/><rect x="604" y="23" width="1" height="1"/><rect x="614" y="23" width="1" height="1"/><rect x="621" y="23" width="1" height="1"/><rect x="626" y="23" width="1" height="1"/><rect x="632" y="23" width="1" height="1"/><rect x="470" y="24" width="1" height="1"/><rect x="476" y="24" width="1" height="1"/><rect x="482" y="24" width="1" height="1"/><rect x="489" y="24" width="1" height="1"/><rect x="496" y="24" width="5" height="1"/><rect x="515" y="24" width="1" height="1"/><rect x="518" y="24" width="1" height="1"/><rect x="524" y="24" width="1" height="1"/><rect x="528" y="24" width="1" height="1"/><rect x="533" y="24" width="1" height="1"/><rect x="547" y="24" width="1" height="1"/><rect x="553" y="24" width="1" height="1"/><rect x="559" y="24" width="1" height="1"/><rect x="569" y="24" width="1" height="1"/><rect x="576" y="24" width="1" height="1"/><rect x="579" y="24" width="1" height="1"/><rect x="585" y="24" width="1" height="1"/><rect x="588" y="24" width="1" height="1"/><rect x="594" y="24" width="1" height="1"/><rect x="597" y="24" width="1" height="1"/><rect x="604" y="24" width="1" height="1"/><rect x="614" y="24" width="1" height="1"/><rect x="621" y="24" width="1" height="1"/><rect x="626" y="24" width="1" height="1"/><rect x="632" y="24" width="1" height="1"/><rect x="469" y="25" width="1" height="1"/><rect x="476" y="25" width="1" height="1"/><rect x="482" y="25" width="1" height="1"/><rect x="489" y="25" width="1" height="1"/><rect x="500" y="25" width="1" height="1"/><rect x="510" y="25" width="1" height="1"/><rect x="515" y="25" width="1" height="1"/><rect x="518" y="25" width="1" height="1"/><rect x="524" y="25" width="1" height="1"/><rect x="528" y="25" width="1" height="1"/><rect x="533" y="25" width="1" height="1"/><rect x="547" y="25" width="1" height="1"/><rect x="553" y="25" width="1" height="1"/><rect x="559" y="25" width="1" height="1"/><rect x="570" y="25" width="1" height="1"/><rect x="576" y="25" width="1" height="1"/><rect x="579" y="25" width="1" height="1"/><rect x="585" y="25" width="1" height="1"/><rect x="588" y="25" width="1" height="1"/><rect x="594" y="25" width="1" height="1"/><rect x="598" y="25" width="1" height="1"/><rect x="604" y="25" width="1" height="1"/><rect x="614" y="25" width="1" height="1"/><rect x="621" y="25" width="1" height="1"/><rect x="626" y="25" width="1" height="1"/><rect x="632" y="25" width="1" height="1"/><rect x="468" y="26" width="1" height="1"/><rect x="476" y="26" width="1" height="1"/><rect x="482" y="26" width="1" height="1"/><rect x="489" y="26" width="1" height="1"/><rect x="500" y="26" width="1" height="1"/><rect x="510" y="26" width="1" height="1"/><rect x="515" y="26" width="1" height="1"/><rect x="519" y="26" width="1" height="1"/><rect x="524" y="26" width="1" height="1"/><rect x="528" y="26" width="1" height="1"/><rect x="533" y="26" width="1" height="1"/><rect x="547" y="26" width="1" height="1"/><rect x="553" y="26" width="1" height="1"/><rect x="559" y="26" width="1" height="1"/><rect x="570" y="26" width="1" height="1"/><rect x="575" y="26" width="1" height="1"/><rect x="579" y="26" width="1" height="1"/><rect x="585" y="26" width="1" height="1"/><rect x="588" y="26" width="1" height="1"/><rect x="594" y="26" width="1" height="1"/><rect x="598" y="26" width="1" height="1"/><rect x="603" y="26" width="1" height="1"/><rect x="615" y="26" width="1" height="1"/><rect x="621" y="26" width="1" height="1"/><rect x="626" y="26" width="1" height="1"/><rect x="632" y="26" width="1" height="1"/><rect x="639" y="26" width="1" height="1"/><rect x="467" y="27" width="1" height="1"/><rect x="477" y="27" width="1" height="1"/><rect x="482" y="27" width="1" height="1"/><rect x="489" y="27" width="1" height="1"/><rect x="495" y="27" width="1" height="1"/><rect x="499" y="27" width="1" height="1"/><rect x="511" y="27" width="1" height="1"/><rect x="515" y="27" width="1" height="1"/><rect x="519" y="27" width="1" height="1"/><rect x="524" y="27" width="1" height="1"/><rect x="528" y="27" width="1" height="1"/><rect x="533" y="27" width="1" height="1"/><rect x="547" y="27" width="1" height="1"/><rect x="554" y="27" width="1" height="1"/><rect x="559" y="27" width="1" height="1"/><rect x="571" y="27" width="1" height="1"/><rect x="575" y="27" width="1" height="1"/><rect x="580" y="27" width="1" height="1"/><rect x="585" y="27" width="1" height="1"/><rect x="589" y="27" width="1" height="1"/><rect x="594" y="27" width="1" height="1"/><rect x="599" y="27" width="1" height="1"/><rect x="603" y="27" width="1" height="1"/><rect x="615" y="27" width="1" height="1"/><rect x="620" y="27" width="1" height="1"/><rect x="626" y="27" width="1" height="1"/><rect x="633" y="27" width="1" height="1"/><rect x="638" y="27" width="1" height="1"/><rect x="466" y="28" width="8" height="1"/><rect x="477" y="28" width="5" height="1"/><rect x="489" y="28" width="1" height="1"/><rect x="495" y="28" width="5" height="1"/><rect x="511" y="28" width="4" height="1"/><rect x="520" y="28" width="5" height="1"/><rect x="528" y="28" width="1" height="1"/><rect x="533" y="28" width="1" height="1"/><rect x="547" y="28" width="1" height="1"/><rect x="554" y="28" width="5" height="1"/><rect x="571" y="28" width="4" height="1"/><rect x="580" y="28" width="5" height="1"/><rect x="589" y="28" width="5" height="1"/><rect x="599" y="28" width="4" height="1"/><rect x="616" y="28" width="5" height="1"/><rect x="626" y="28" width="1" height="1"/><rect x="633" y="28" width="5" height="1"/><rect x="45" y="34" width="2" height="1"/><rect x="44" y="35" width="1" height="1"/><rect x="47" y="35" width="1" height="1"/><rect x="43" y="36" width="1" height="1"/><rect x="48" y="36" width="1" height="1"/><rect x="43" y="37" width="1" height="1"/><rect x="49" y="37" width="1" height="1"/><rect x="42" y="38" width="1" height="1"/><rect x="49" y="38" width="1" height="1"/><rect x="42" y="39" width="1" height="1"/><rect x="48" y="39" width="2" height="1"/><rect x="43" y="40" width="1" height="1"/><rect x="48" y="40" width="2" height="1"/><rect x="44" y="41" width="4" height="1"/><rect x="49" y="41" width="1" height="1"/><rect x="48" y="42" width="1" height="1"/><rect x="48" y="43" width="1" height="1"/><rect x="43" y="44" width="1" height="1"/><rect x="47" y="44" width="1" height="1"/><rect x="43" y="45" width="5" height="1"/><rect x="43" y="73" width="6" height="1"/><rect x="43" y="74" width="1" height="1"/><rect x="49" y="74" width="1" height="1"/><rect x="43" y="75" width="1" height="1"/><rect x="49" y="75" width="1" height="1"/><rect x="43" y="76" width="1" height="1"/><rect x="48" y="76" width="1" height="1"/><rect x="44" y="77" width="4" height="1"/><rect x="44" y="78" width="1" height="1"/><rect x="47" y="78" width="2" height="1"/><rect x="43" y="79" width="1" height="1"/><rect x="49" y="79" width="1" height="1"/><rect x="42" y="80" width="1" height="1"/><rect x="49" y="80" width="1" height="1"/><rect x="42" y="81" width="1" height="1"/><rect x="49" y="81" width="1" height="1"/><rect x="43" y="82" width="1" height="1"/><rect x="49" y="82" width="1" height="1"/><rect x="43" y="83" width="6" height="1"/><rect x="42" y="115" width="8" height="1"/><rect x="49" y="116" width="1" height="1"/><rect x="48" y="117" width="1" height="1"/><rect x="48" y="118" width="1" height="1"/><rect x="47" y="119" width="1" height="1"/><rect x="47" y="120" width="1" height="1"/><rect x="46" y="121" width="1" height="1"/><rect x="46" y="122" width="1" height="1"/><rect x="45" y="123" width="1" height="1"/><rect x="45" y="124" width="1" height="1"/><rect x="44" y="125" width="1" height="1"/><rect x="44" y="126" width="1" height="1"/><rect x="46" y="158" width="2" height="1"/><rect x="44" y="159" width="2" height="1"/><rect x="48" y="159" width="1" height="1"/><rect x="43" y="160" width="1" height="1"/><rect x="49" y="160" width="1" height="1"/><rect x="43" y="161" width="1" height="1"/><rect x="43" y="162" width="1" height="1"/><rect x="46" y="162" width="2" height="1"/><rect x="43" y="163" width="3" height="1"/><rect x="48" y="163" width="1" height="1"/><rect x="43" y="164" width="1" height="1"/><rect x="49" y="164" width="1" height="1"/><rect x="43" y="165" width="1" height="1"/><rect x="49" y="165" width="1" height="1"/><rect x="43" y="166" width="1" height="1"/><rect x="49" y="166" width="1" height="1"/><rect x="43" y="167" width="1" height="1"/><rect x="49" y="167" width="1" height="1"/><rect x="44" y="168" width="1" height="1"/><rect x="47" y="168" width="2" height="1"/><rect x="45" y="169" width="2" height="1"/><rect x="43" y="201" width="6" height="1"/><rect x="43" y="202" width="1" height="1"/><rect x="43" y="203" width="1" height="1"/><rect x="43" y="204" width="4" height="1"/><rect x="43" y="205" width="1" height="1"/><rect x="47" y="205" width="2" height="1"/><rect x="49" y="206" width="1" height="1"/><rect x="49" y="207" width="1" height="1"/><rect x="49" y="208" width="1" height="1"/><rect x="42" y="209" width="1" height="1"/><rect x="49" y="209" width="1" height="1"/><rect x="43" y="210" width="1" height="1"/><rect x="49" y="210" width="1" height="1"/><rect x="43" y="211" width="6" height="1"/><rect x="47" y="243" width="1" height="1"/><rect x="46" y="244" width="2" height="1"/><rect x="46" y="245" width="2" height="1"/><rect x="45" y="246" width="1" height="1"/><rect x="47" y="246" width="1" height="1"/><rect x="44" y="247" width="1" height="1"/><rect x="47" y="247" width="1" height="1"/><rect x="44" y="248" width="1" height="1"/><rect x="47" y="248" width="1" height="1"/><rect x="43" y="249" width="1" height="1"/><rect x="47" y="249" width="1" height="1"/><rect x="43" y="250" width="1" height="1"/><rect x="47" y="250" width="1" height="1"/><rect x="42" y="251" width="9" height="1"/><rect x="47" y="252" width="1" height="1"/><rect x="47" y="253" width="1" height="1"/><rect x="47" y="254" width="1" height="1"/><rect x="43" y="286" width="7" height="1"/><rect x="48" y="287" width="1" height="1"/><rect x="47" y="288" width="1" height="1"/><rect x="47" y="289" width="1" height="1"/><rect x="46" y="290" width="2" height="1"/><rect x="48" y="291" width="2" height="1"/><rect x="49" y="292" width="1" height="1"/><rect x="49" y="293" width="1" height="1"/><rect x="49" y="294" width="1" height="1"/><rect x="42" y="295" width="1" height="1"/><rect x="49" y="295" width="1" height="1"/><rect x="43" y="296" width="2" height="1"/><rect x="48" y="296" width="1" height="1"/><rect x="45" y="297" width="3" height="1"/><rect x="44" y="329" width="5" height="1"/><rect x="43" y="330" width="1" height="1"/><rect x="48" y="330" width="1" height="1"/><rect x="43" y="331" width="1" height="1"/><rect x="49" y="331" width="1" height="1"/><rect x="49" y="332" width="1" height="1"/><rect x="48" y="333" width="1" height="1"/><rect x="47" y="334" width="1" height="1"/><rect x="46" y="335" width="1" height="1"/><rect x="45" y="336" width="1" height="1"/><rect x="44" y="337" width="1" height="1"/><rect x="43" y="338" width="1" height="1"/><rect x="42" y="339" width="8" height="1"/><rect x="46" y="371" width="1" height="1"/><rect x="46" y="372" width="1" height="1"/><rect x="44" y="373" width="3" height="1"/><rect x="46" y="374" width="1" height="1"/><rect x="46" y="375" width="1" height="1"/><rect x="46" y="376" width="1" height="1"/><rect x="46" y="377" width="1" height="1"/><rect x="46" y="378" width="1" height="1"/><rect x="46" y="379" width="1" height="1"/><rect x="46" y="380" width="1" height="1"/><rect x="46" y="381" width="1" height="1"/><rect x="46" y="382" width="1" height="1"/><rect x="45" y="408" width="3" height="1"/><rect x="44" y="409" width="1" height="1"/><rect x="48" y="409" width="1" height="1"/><rect x="43" y="410" width="1" height="1"/><rect x="49" y="410" width="1" height="1"/><rect x="43" y="411" width="1" height="1"/><rect x="49" y="411" width="1" height="1"/><rect x="42" y="412" width="1" height="1"/><rect x="49" y="412" width="1" height="1"/><rect x="42" y="413" width="1" height="1"/><rect x="49" y="413" width="1" height="1"/><rect x="42" y="414" width="1" height="1"/><rect x="49" y="414" width="1" height="1"/><rect x="42" y="415" width="1" height="1"/><rect x="49" y="415" width="1" height="1"/><rect x="43" y="416" width="1" height="1"/><rect x="49" y="416" width="1" height="1"/><rect x="43" y="417" width="1" height="1"/><rect x="49" y="417" width="1" height="1"/><rect x="44" y="418" width="1" height="1"/><rect x="47" y="418" width="2" height="1"/><rect x="45" y="419" width="2" height="1"/><rect x="37" y="428" width="1" height="1"/><rect x="67" y="428" width="1" height="1"/><rect x="74" y="428" width="2" height="1"/><rect x="205" y="428" width="1" height="1"/><rect x="235" y="428" width="1" height="1"/><rect x="243" y="428" width="1" height="1"/><rect x="373" y="428" width="1" height="1"/><rect x="403" y="428" width="1" height="1"/><rect x="410" y="428" width="2" height="1"/><rect x="541" y="428" width="1" height="1"/><rect x="571" y="428" width="1" height="1"/><rect x="577" y="428" width="5" height="1"/><rect x="37" y="429" width="1" height="1"/><rect x="66" y="429" width="2" height="1"/><rect x="73" y="429" width="1" height="1"/><rect x="76" y="429" width="1" height="1"/><rect x="205" y="429" width="1" height="1"/><rect x="234" y="429" width="2" height="1"/><rect x="243" y="429" width="1" height="1"/><rect x="373" y="429" width="1" height="1"/><rect x="402" y="429" width="2" height="1"/><rect x="409" y="429" width="1" height="1"/><rect x="412" y="429" width="2" height="1"/><rect x="541" y="429" width="1" height="1"/><rect x="570" y="429" width="2" height="1"/><rect x="580" y="429" width="1" height="1"/><rect x="37" y="430" width="1" height="1"/><rect x="64" y="430" width="2" height="1"/><rect x="67" y="430" width="1" height="1"/><rect x="72" y="430" width="1" height="1"/><rect x="77" y="430" width="1" height="1"/><rect x="205" y="430" width="1" height="1"/><rect x="232" y="430" width="2" height="1"/><rect x="235" y="430" width="1" height="1"/><rect x="241" y="430" width="3" height="1"/><rect x="373" y="430" width="1" height="1"/><rect x="400" y="430" width="2" height="1"/><rect x="403" y="430" width="1" height="1"/><rect x="408" y="430" width="1" height="1"/><rect x="413" y="430" width="1" height="1"/><rect x="541" y="430" width="1" height="1"/><rect x="568" y="430" width="2" height="1"/><rect x="571" y="430" width="1" height="1"/><rect x="580" y="430" width="1" height="1"/><rect x="37" y="431" width="1" height="1"/><rect x="67" y="431" width="1" height="1"/><rect x="72" y="431" width="1" height="1"/><rect x="77" y="431" width="1" height="1"/><rect x="205" y="431" width="1" height="1"/><rect x="235" y="431" width="1" height="1"/><rect x="243" y="431" width="1" height="1"/><rect x="373" y="431" width="1" height="1"/><rect x="403" y="431" width="1" height="1"/><rect x="408" y="431" width="1" height="1"/><rect x="413" y="431" width="1" height="1"/><rect x="541" y="431" width="1" height="1"/><rect x="571" y="431" width="1" height="1"/><rect x="579" y="431" width="1" height="1"/><rect x="37" y="432" width="1" height="1"/><rect x="42" y="432" width="4" height="1"/><rect x="49" y="432" width="5" height="1"/><rect x="67" y="432" width="1" height="1"/><rect x="72" y="432" width="1" height="1"/><rect x="78" y="432" width="1" height="1"/><rect x="205" y="432" width="1" height="1"/><rect x="210" y="432" width="4" height="1"/><rect x="217" y="432" width="5" height="1"/><rect x="235" y="432" width="1" height="1"/><rect x="243" y="432" width="1" height="1"/><rect x="373" y="432" width="1" height="1"/><rect x="378" y="432" width="4" height="1"/><rect x="385" y="432" width="5" height="1"/><rect x="403" y="432" width="1" height="1"/><rect x="413" y="432" width="1" height="1"/><rect x="541" y="432" width="1" height="1"/><rect x="546" y="432" width="4" height="1"/><rect x="553" y="432" width="5" height="1"/><rect x="571" y="432" width="1" height="1"/><rect x="579" y="432" width="2" height="1"/><rect x="37" y="433" width="1" height="1"/><rect x="41" y="433" width="1" height="1"/><rect x="45" y="433" width="1" height="1"/><rect x="49" y="433" width="2" height="1"/><rect x="54" y="433" width="1" height="1"/><rect x="67" y="433" width="1" height="1"/><rect x="72" y="433" width="1" height="1"/><rect x="78" y="433" width="1" height="1"/><rect x="205" y="433" width="1" height="1"/><rect x="209" y="433" width="1" height="1"/><rect x="213" y="433" width="1" height="1"/><rect x="217" y="433" width="2" height="1"/><rect x="222" y="433" width="1" height="1"/><rect x="235" y="433" width="1" height="1"/><rect x="243" y="433" width="1" height="1"/><rect x="373" y="433" width="1" height="1"/><rect x="377" y="433" width="1" height="1"/><rect x="381" y="433" width="1" height="1"/><rect x="385" y="433" width="2" height="1"/><rect x="390" y="433" width="1" height="1"/><rect x="403" y="433" width="1" height="1"/><rect x="412" y="433" width="1" height="1"/><rect x="541" y="433" width="1" height="1"/><rect x="545" y="433" width="1" height="1"/><rect x="549" y="433" width="1" height="1"/><rect x="553" y="433" width="2" height="1"/><rect x="558" y="433" width="1" height="1"/><rect x="571" y="433" width="1" height="1"/><rect x="581" y="433" width="1" height="1"/><rect x="37" y="434" width="1" height="1"/><rect x="40" y="434" width="1" height="1"/><rect x="45" y="434" width="1" height="1"/><rect x="49" y="434" width="1" height="1"/><rect x="54" y="434" width="1" height="1"/><rect x="67" y="434" width="1" height="1"/><rect x="72" y="434" width="1" height="1"/><rect x="78" y="434" width="1" height="1"/><rect x="205" y="434" width="1" height="1"/><rect x="208" y="434" width="1" height="1"/><rect x="213" y="434" width="1" height="1"/><rect x="217" y="434" width="1" height="1"/><rect x="222" y="434" width="1" height="1"/><rect x="235" y="434" width="1" height="1"/><rect x="243" y="434" width="1" height="1"/><rect x="373" y="434" width="1" height="1"/><rect x="376" y="434" width="1" height="1"/><rect x="381" y="434" width="1" height="1"/><rect x="385" y="434" width="1" height="1"/><rect x="390" y="434" width="1" height="1"/><rect x="403" y="434" width="1" height="1"/><rect x="412" y="434" width="1" height="1"/><rect x="541" y="434" width="1" height="1"/><rect x="544" y="434" width="1" height="1"/><rect x="549" y="434" width="1" height="1"/><rect x="553" y="434" width="1" height="1"/><rect x="558" y="434" width="1" height="1"/><rect x="571" y="434" width="1" height="1"/><rect x="582" y="434" width="1" height="1"/><rect x="33" y="435" width="1" height="1"/><rect x="37" y="435" width="1" height="1"/><rect x="40" y="435" width="1" height="1"/><rect x="45" y="435" width="1" height="1"/><rect x="49" y="435" width="1" height="1"/><rect x="54" y="435" width="1" height="1"/><rect x="67" y="435" width="1" height="1"/><rect x="72" y="435" width="1" height="1"/><rect x="78" y="435" width="1" height="1"/><rect x="201" y="435" width="1" height="1"/><rect x="205" y="435" width="1" height="1"/><rect x="208" y="435" width="1" height="1"/><rect x="213" y="435" width="1" height="1"/><rect x="217" y="435" width="1" height="1"/><rect x="222" y="435" width="1" height="1"/><rect x="235" y="435" width="1" height="1"/><rect x="243" y="435" width="1" height="1"/><rect x="369" y="435" width="1" height="1"/><rect x="373" y="435" width="1" height="1"/><rect x="376" y="435" width="1" height="1"/><rect x="381" y="435" width="1" height="1"/><rect x="385" y="435" width="1" height="1"/><rect x="390" y="435" width="1" height="1"/><rect x="403" y="435" width="1" height="1"/><rect x="411" y="435" width="1" height="1"/><rect x="537" y="435" width="1" height="1"/><rect x="541" y="435" width="1" height="1"/><rect x="544" y="435" width="1" height="1"/><rect x="549" y="435" width="1" height="1"/><rect x="553" y="435" width="1" height="1"/><rect x="558" y="435" width="1" height="1"/><rect x="571" y="435" width="1" height="1"/><rect x="582" y="435" width="1" height="1"/><rect x="33" y="436" width="1" height="1"/><rect x="37" y="436" width="1" height="1"/><rect x="41" y="436" width="1" height="1"/><rect x="45" y="436" width="1" height="1"/><rect x="49" y="436" width="1" height="1"/><rect x="54" y="436" width="1" height="1"/><rect x="67" y="436" width="1" height="1"/><rect x="72" y="436" width="1" height="1"/><rect x="77" y="436" width="1" height="1"/><rect x="201" y="436" width="1" height="1"/><rect x="205" y="436" width="1" height="1"/><rect x="209" y="436" width="1" height="1"/><rect x="213" y="436" width="1" height="1"/><rect x="217" y="436" width="1" height="1"/><rect x="222" y="436" width="1" height="1"/><rect x="235" y="436" width="1" height="1"/><rect x="243" y="436" width="1" height="1"/><rect x="369" y="436" width="1" height="1"/><rect x="373" y="436" width="1" height="1"/><rect x="377" y="436" width="1" height="1"/><rect x="381" y="436" width="1" height="1"/><rect x="385" y="436" width="1" height="1"/><rect x="390" y="436" width="1" height="1"/><rect x="403" y="436" width="1" height="1"/><rect x="410" y="436" width="1" height="1"/><rect x="537" y="436" width="1" height="1"/><rect x="541" y="436" width="1" height="1"/><rect x="545" y="436" width="1" height="1"/><rect x="549" y="436" width="1" height="1"/><rect x="553" y="436" width="1" height="1"/><rect x="558" y="436" width="1" height="1"/><rect x="571" y="436" width="1" height="1"/><rect x="576" y="436" width="1" height="1"/><rect x="581" y="436" width="1" height="1"/><rect x="34" y="437" width="1" height="1"/><rect x="37" y="437" width="1" height="1"/><rect x="41" y="437" width="1" height="1"/><rect x="45" y="437" width="1" height="1"/><rect x="49" y="437" width="1" height="1"/><rect x="54" y="437" width="1" height="1"/><rect x="67" y="437" width="1" height="1"/><rect x="73" y="437" width="1" height="1"/><rect x="77" y="437" width="1" height="1"/><rect x="202" y="437" width="1" height="1"/><rect x="205" y="437" width="1" height="1"/><rect x="209" y="437" width="1" height="1"/><rect x="213" y="437" width="1" height="1"/><rect x="217" y="437" width="1" height="1"/><rect x="222" y="437" width="1" height="1"/><rect x="235" y="437" width="1" height="1"/><rect x="243" y="437" width="1" height="1"/><rect x="370" y="437" width="1" height="1"/><rect x="373" y="437" width="1" height="1"/><rect x="377" y="437" width="1" height="1"/><rect x="381" y="437" width="1" height="1"/><rect x="385" y="437" width="1" height="1"/><rect x="390" y="437" width="1" height="1"/><rect x="403" y="437" width="1" height="1"/><rect x="409" y="437" width="1" height="1"/><rect x="538" y="437" width="1" height="1"/><rect x="541" y="437" width="1" height="1"/><rect x="545" y="437" width="1" height="1"/><rect x="549" y="437" width="1" height="1"/><rect x="553" y="437" width="1" height="1"/><rect x="558" y="437" width="1" height="1"/><rect x="571" y="437" width="1" height="1"/><rect x="576" y="437" width="1" height="1"/><rect x="581" y="437" width="1" height="1"/><rect x="34" y="438" width="4" height="1"/><rect x="42" y="438" width="4" height="1"/><rect x="49" y="438" width="1" height="1"/><rect x="54" y="438" width="1" height="1"/><rect x="67" y="438" width="1" height="1"/><rect x="73" y="438" width="4" height="1"/><rect x="202" y="438" width="4" height="1"/><rect x="210" y="438" width="4" height="1"/><rect x="217" y="438" width="1" height="1"/><rect x="222" y="438" width="1" height="1"/><rect x="235" y="438" width="1" height="1"/><rect x="243" y="438" width="1" height="1"/><rect x="370" y="438" width="4" height="1"/><rect x="378" y="438" width="4" height="1"/><rect x="385" y="438" width="1" height="1"/><rect x="390" y="438" width="1" height="1"/><rect x="403" y="438" width="1" height="1"/><rect x="408" y="438" width="7" height="1"/><rect x="538" y="438" width="4" height="1"/><rect x="546" y="438" width="4" height="1"/><rect x="553" y="438" width="1" height="1"/><rect x="558" y="438" width="1" height="1"/><rect x="571" y="438" width="1" height="1"/><rect x="577" y="438" width="4" height="1"/><rect x="76" y="464" width="3" height="1"/><rect x="86" y="464" width="2" height="1"/><rect x="96" y="464" width="1" height="1"/><rect x="104" y="464" width="2" height="1"/><rect x="122" y="464" width="1" height="1"/><rect x="154" y="464" width="1" height="1"/><rect x="162" y="464" width="3" height="1"/><rect x="180" y="464" width="1" height="1"/><rect x="187" y="464" width="5" height="1"/><rect x="202" y="464" width="3" height="1"/><rect x="212" y="464" width="2" height="1"/><rect x="226" y="464" width="2" height="1"/><rect x="234" y="464" width="3" height="1"/><rect x="249" y="464" width="1" height="1"/><rect x="256" y="464" width="1" height="1"/><rect x="258" y="464" width="7" height="1"/><rect x="269" y="464" width="3" height="1"/><rect x="75" y="465" width="1" height="1"/><rect x="79" y="465" width="1" height="1"/><rect x="84" y="465" width="2" height="1"/><rect x="88" y="465" width="1" height="1"/><rect x="95" y="465" width="2" height="1"/><rect x="103" y="465" width="1" height="1"/><rect x="106" y="465" width="1" height="1"/><rect x="122" y="465" width="1" height="1"/><rect x="154" y="465" width="1" height="1"/><rect x="161" y="465" width="1" height="1"/><rect x="165" y="465" width="1" height="1"/><rect x="180" y="465" width="1" height="1"/><rect x="187" y="465" width="1" height="1"/><rect x="201" y="465" width="1" height="1"/><rect x="205" y="465" width="1" height="1"/><rect x="210" y="465" width="2" height="1"/><rect x="214" y="465" width="1" height="1"/><rect x="224" y="465" width="2" height="1"/><rect x="228" y="465" width="1" height="1"/><rect x="233" y="465" width="1" height="1"/><rect x="237" y="465" width="2" height="1"/><rect x="249" y="465" width="1" height="1"/><rect x="256" y="465" width="1" height="1"/><rect x="261" y="465" width="1" height="1"/><rect x="268" y="465" width="1" height="1"/><rect x="272" y="465" width="1" height="1"/><rect x="74" y="466" width="1" height="1"/><rect x="80" y="466" width="1" height="1"/><rect x="83" y="466" width="1" height="1"/><rect x="89" y="466" width="1" height="1"/><rect x="94" y="466" width="1" height="1"/><rect x="96" y="466" width="1" height="1"/><rect x="102" y="466" width="1" height="1"/><rect x="107" y="466" width="1" height="1"/><rect x="122" y="466" width="1" height="1"/><rect x="152" y="466" width="3" height="1"/><rect x="160" y="466" width="1" height="1"/><rect x="166" y="466" width="1" height="1"/><rect x="178" y="466" width="3" height="1"/><rect x="186" y="466" width="1" height="1"/><rect x="200" y="466" width="1" height="1"/><rect x="206" y="466" width="1" height="1"/><rect x="209" y="466" width="1" height="1"/><rect x="215" y="466" width="1" height="1"/><rect x="223" y="466" width="1" height="1"/><rect x="229" y="466" width="1" height="1"/><rect x="232" y="466" width="1" height="1"/><rect x="238" y="466" width="1" height="1"/><rect x="249" y="466" width="1" height="1"/><rect x="256" y="466" width="1" height="1"/><rect x="261" y="466" width="1" height="1"/><rect x="267" y="466" width="1" height="1"/><rect x="273" y="466" width="1" height="1"/><rect x="74" y="467" width="1" height="1"/><rect x="80" y="467" width="1" height="1"/><rect x="83" y="467" width="1" height="1"/><rect x="89" y="467" width="1" height="1"/><rect x="96" y="467" width="1" height="1"/><rect x="101" y="467" width="1" height="1"/><rect x="107" y="467" width="1" height="1"/><rect x="122" y="467" width="1" height="1"/><rect x="154" y="467" width="1" height="1"/><rect x="160" y="467" width="1" height="1"/><rect x="166" y="467" width="1" height="1"/><rect x="180" y="467" width="1" height="1"/><rect x="186" y="467" width="1" height="1"/><rect x="200" y="467" width="1" height="1"/><rect x="206" y="467" width="1" height="1"/><rect x="209" y="467" width="1" height="1"/><rect x="215" y="467" width="1" height="1"/><rect x="223" y="467" width="1" height="1"/><rect x="229" y="467" width="1" height="1"/><rect x="232" y="467" width="1" height="1"/><rect x="238" y="467" width="1" height="1"/><rect x="249" y="467" width="1" height="1"/><rect x="256" y="467" width="1" height="1"/><rect x="261" y="467" width="1" height="1"/><rect x="267" y="467" width="1" height="1"/><rect x="273" y="467" width="1" height="1"/><rect x="79" y="468" width="1" height="1"/><rect x="83" y="468" width="1" height="1"/><rect x="89" y="468" width="1" height="1"/><rect x="96" y="468" width="1" height="1"/><rect x="101" y="468" width="1" height="1"/><rect x="107" y="468" width="1" height="1"/><rect x="122" y="468" width="1" height="1"/><rect x="127" y="468" width="5" height="1"/><rect x="135" y="468" width="5" height="1"/><rect x="154" y="468" width="1" height="1"/><rect x="165" y="468" width="1" height="1"/><rect x="180" y="468" width="1" height="1"/><rect x="186" y="468" width="6" height="1"/><rect x="195" y="468" width="2" height="1"/><rect x="205" y="468" width="1" height="1"/><rect x="209" y="468" width="1" height="1"/><rect x="215" y="468" width="1" height="1"/><rect x="219" y="468" width="1" height="1"/><rect x="223" y="468" width="1" height="1"/><rect x="229" y="468" width="1" height="1"/><rect x="238" y="468" width="1" height="1"/><rect x="249" y="468" width="1" height="1"/><rect x="256" y="468" width="1" height="1"/><rect x="261" y="468" width="1" height="1"/><rect x="266" y="468" width="1" height="1"/><rect x="78" y="469" width="1" height="1"/><rect x="83" y="469" width="1" height="1"/><rect x="89" y="469" width="1" height="1"/><rect x="96" y="469" width="1" height="1"/><rect x="102" y="469" width="1" height="1"/><rect x="107" y="469" width="1" height="1"/><rect x="122" y="469" width="1" height="1"/><rect x="126" y="469" width="1" height="1"/><rect x="131" y="469" width="1" height="1"/><rect x="135" y="469" width="1" height="1"/><rect x="140" y="469" width="1" height="1"/><rect x="154" y="469" width="1" height="1"/><rect x="164" y="469" width="1" height="1"/><rect x="180" y="469" width="1" height="1"/><rect x="192" y="469" width="1" height="1"/><rect x="204" y="469" width="1" height="1"/><rect x="209" y="469" width="1" height="1"/><rect x="215" y="469" width="1" height="1"/><rect x="223" y="469" width="1" height="1"/><rect x="229" y="469" width="1" height="1"/><rect x="237" y="469" width="1" height="1"/><rect x="249" y="469" width="1" height="1"/><rect x="256" y="469" width="1" height="1"/><rect x="261" y="469" width="1" height="1"/><rect x="266" y="469" width="1" height="1"/><rect x="77" y="470" width="1" height="1"/><rect x="83" y="470" width="1" height="1"/><rect x="89" y="470" width="1" height="1"/><rect x="96" y="470" width="1" height="1"/><rect x="103" y="470" width="5" height="1"/><rect x="122" y="470" width="1" height="1"/><rect x="125" y="470" width="1" height="1"/><rect x="131" y="470" width="1" height="1"/><rect x="135" y="470" width="1" height="1"/><rect x="140" y="470" width="1" height="1"/><rect x="154" y="470" width="1" height="1"/><rect x="163" y="470" width="1" height="1"/><rect x="180" y="470" width="1" height="1"/><rect x="192" y="470" width="1" height="1"/><rect x="203" y="470" width="1" height="1"/><rect x="209" y="470" width="1" height="1"/><rect x="215" y="470" width="1" height="1"/><rect x="223" y="470" width="1" height="1"/><rect x="229" y="470" width="1" height="1"/><rect x="236" y="470" width="1" height="1"/><rect x="249" y="470" width="1" height="1"/><rect x="256" y="470" width="1" height="1"/><rect x="261" y="470" width="1" height="1"/><rect x="266" y="470" width="1" height="1"/><rect x="76" y="471" width="1" height="1"/><rect x="83" y="471" width="1" height="1"/><rect x="89" y="471" width="1" height="1"/><rect x="96" y="471" width="1" height="1"/><rect x="107" y="471" width="1" height="1"/><rect x="118" y="471" width="1" height="1"/><rect x="122" y="471" width="1" height="1"/><rect x="125" y="471" width="1" height="1"/><rect x="131" y="471" width="1" height="1"/><rect x="135" y="471" width="1" height="1"/><rect x="140" y="471" width="1" height="1"/><rect x="154" y="471" width="1" height="1"/><rect x="162" y="471" width="1" height="1"/><rect x="180" y="471" width="1" height="1"/><rect x="192" y="471" width="1" height="1"/><rect x="202" y="471" width="1" height="1"/><rect x="209" y="471" width="1" height="1"/><rect x="215" y="471" width="1" height="1"/><rect x="223" y="471" width="1" height="1"/><rect x="229" y="471" width="1" height="1"/><rect x="235" y="471" width="1" height="1"/><rect x="249" y="471" width="1" height="1"/><rect x="256" y="471" width="1" height="1"/><rect x="261" y="471" width="1" height="1"/><rect x="267" y="471" width="1" height="1"/><rect x="76" y="472" width="1" height="1"/><rect x="83" y="472" width="1" height="1"/><rect x="89" y="472" width="1" height="1"/><rect x="96" y="472" width="1" height="1"/><rect x="107" y="472" width="1" height="1"/><rect x="118" y="472" width="1" height="1"/><rect x="122" y="472" width="1" height="1"/><rect x="126" y="472" width="1" height="1"/><rect x="131" y="472" width="1" height="1"/><rect x="135" y="472" width="1" height="1"/><rect x="140" y="472" width="1" height="1"/><rect x="154" y="472" width="1" height="1"/><rect x="162" y="472" width="1" height="1"/><rect x="180" y="472" width="1" height="1"/><rect x="186" y="472" width="1" height="1"/><rect x="192" y="472" width="1" height="1"/><rect x="202" y="472" width="1" height="1"/><rect x="209" y="472" width="1" height="1"/><rect x="215" y="472" width="1" height="1"/><rect x="223" y="472" width="1" height="1"/><rect x="229" y="472" width="1" height="1"/><rect x="234" y="472" width="1" height="1"/><rect x="250" y="472" width="1" height="1"/><rect x="256" y="472" width="1" height="1"/><rect x="261" y="472" width="1" height="1"/><rect x="267" y="472" width="1" height="1"/><rect x="273" y="472" width="1" height="1"/><rect x="75" y="473" width="1" height="1"/><rect x="84" y="473" width="1" height="1"/><rect x="89" y="473" width="1" height="1"/><rect x="96" y="473" width="1" height="1"/><rect x="102" y="473" width="1" height="1"/><rect x="106" y="473" width="1" height="1"/><rect x="118" y="473" width="1" height="1"/><rect x="122" y="473" width="1" height="1"/><rect x="126" y="473" width="1" height="1"/><rect x="131" y="473" width="1" height="1"/><rect x="135" y="473" width="1" height="1"/><rect x="140" y="473" width="1" height="1"/><rect x="154" y="473" width="1" height="1"/><rect x="161" y="473" width="1" height="1"/><rect x="180" y="473" width="1" height="1"/><rect x="186" y="473" width="1" height="1"/><rect x="192" y="473" width="1" height="1"/><rect x="196" y="473" width="1" height="1"/><rect x="201" y="473" width="1" height="1"/><rect x="210" y="473" width="1" height="1"/><rect x="215" y="473" width="1" height="1"/><rect x="219" y="473" width="1" height="1"/><rect x="224" y="473" width="1" height="1"/><rect x="229" y="473" width="1" height="1"/><rect x="233" y="473" width="1" height="1"/><rect x="250" y="473" width="1" height="1"/><rect x="255" y="473" width="1" height="1"/><rect x="261" y="473" width="1" height="1"/><rect x="267" y="473" width="1" height="1"/><rect x="273" y="473" width="1" height="1"/><rect x="74" y="474" width="7" height="1"/><rect x="84" y="474" width="5" height="1"/><rect x="96" y="474" width="1" height="1"/><rect x="102" y="474" width="5" height="1"/><rect x="119" y="474" width="3" height="1"/><rect x="127" y="474" width="5" height="1"/><rect x="135" y="474" width="1" height="1"/><rect x="140" y="474" width="1" height="1"/><rect x="154" y="474" width="1" height="1"/><rect x="160" y="474" width="7" height="1"/><rect x="180" y="474" width="1" height="1"/><rect x="187" y="474" width="5" height="1"/><rect x="195" y="474" width="2" height="1"/><rect x="200" y="474" width="7" height="1"/><rect x="210" y="474" width="5" height="1"/><rect x="219" y="474" width="1" height="1"/><rect x="224" y="474" width="5" height="1"/><rect x="232" y="474" width="7" height="1"/><rect x="251" y="474" width="4" height="1"/><rect x="261" y="474" width="1" height="1"/><rect x="268" y="474" width="5" height="1"/></g>
<g fill="#ff0000" shape-rendering="crispEdges"><rect x="603" y="128" width="1" height="1"/><rect x="603" y="129" width="1" height="1"/><rect x="603" y="130" width="1" height="1"/><rect x="607" y="130" width="1" height="1"/><rect x="603" y="131" width="1" height="1"/><rect x="607" y="131" width="1" height="1"/><rect x="592" y="132" width="16" height="1"/><rect x="592" y="133" width="16" height="1"/><rect x="593" y="134" width="1" height="1"/><rect x="603" y="134" width="1" height="1"/><rect x="607" y="134" width="1" height="1"/><rect x="594" y="135" width="2" height="1"/><rect x="603" y="135" width="1" height="1"/><rect x="607" y="135" width="1" height="1"/><rect x="596" y="136" width="2" height="1"/><rect x="603" y="136" width="1" height="1"/><rect x="607" y="136" width="1" height="1"/><rect x="598" y="137" width="1" height="1"/><rect x="603" y="137" width="1" height="1"/><rect x="599" y="138" width="2" height="1"/><rect x="603" y="138" width="1" height="1"/><rect x="601" y="139" width="3" height="1"/><rect x="603" y="140" width="1" height="1"/><rect x="600" y="143" width="2" height="1"/><rect x="598" y="144" width="2" height="1"/><rect x="602" y="144" width="2" height="1"/><rect x="596" y="145" width="2" height="1"/><rect x="604" y="145" width="2" height="1"/><rect x="594" y="146" width="2" height="1"/><rect x="606" y="146" width="2" height="1"/><rect x="592" y="147" width="2" height="1"/><rect x="608" y="147" width="2" height="1"/><rect x="590" y="148" width="2" height="1"/><rect x="610" y="148" width="2" height="1"/><rect x="589" y="149" width="1" height="1"/><rect x="612" y="149" width="1" height="1"/><rect x="592" y="152" width="1" height="1"/><rect x="607" y="152" width="1" height="1"/><rect x="592" y="153" width="1" height="1"/><rect x="607" y="153" width="1" height="1"/><rect x="592" y="154" width="2" height="1"/><rect x="607" y="154" width="1" height="1"/><rect x="592" y="155" width="1" height="1"/><rect x="594" y="155" width="1" height="1"/><rect x="606" y="155" width="2" height="1"/><rect x="592" y="156" width="1" height="1"/><rect x="595" y="156" width="1" height="1"/><rect x="605" y="156" width="3" height="1"/><rect x="596" y="157" width="1" height="1"/><rect x="603" y="157" width="3" height="1"/><rect x="607" y="157" width="1" height="1"/><rect x="597" y="158" width="1" height="1"/><rect x="602" y="158" width="3" height="1"/><rect x="598" y="159" width="1" height="1"/><rect x="601" y="159" width="2" height="1"/><rect x="592" y="160" width="1" height="1"/><rect x="599" y="160" width="3" height="1"/><rect x="607" y="160" width="1" height="1"/><rect x="592" y="161" width="1" height="1"/><rect x="599" y="161" width="2" height="1"/><rect x="607" y="161" width="1" height="1"/><rect x="592" y="162" width="16" height="1"/><rect x="592" y="163" width="16" height="1"/><rect x="592" y="164" width="1" height="1"/><rect x="607" y="164" width="1" height="1"/><rect x="592" y="165" width="1" height="1"/><rect x="607" y="165" width="1" height="1"/><rect x="592" y="166" width="1" height="1"/><rect x="607" y="166" width="1" height="1"/></g>
<g fill="#ffdc00" shape-rendering="crispEdges"><rect x="603" y="192" width="1" height="1"/><rect x="603" y="193" width="1" height="1"/><rect x="603" y="194" width="1" height="1"/><rect x="607" y="194" width="1" height="1"/><rect x="603" y="195" width="1" height="1"/><rect x="607" y="195" width="1" height="1"/><rect x="592" y="196" width="16" height="1"/><rect x="592" y="197" width="16" height="1"/><rect x="593" y="198" width="1" height="1"/><rect x="603" y="198" width="1" height="1"/><rect x="607" y="198" width="1" height="1"/><rect x="594" y="199" width="2" height="1"/><rect x="603" y="199" width="1" height="1"/><rect x="607" y="199" width="1" height="1"/><rect x="596" y="200" width="2" height="1"/><rect x="603" y="200" width="1" height="1"/><rect x="607" y="200" width="1" height="1"/><rect x="598" y="201" width="1" height="1"/><rect x="603" y="201" width="1" height="1"/><rect x="599" y="202" width="2" height="1"/><rect x="603" y="202" width="1" height="1"/><rect x="601" y="203" width="3" height="1"/><rect x="603" y="204" width="1" height="1"/><rect x="597" y="208" width="2" height="1"/><rect x="603" y="208" width="2" height="1"/><rect x="597" y="209" width="2" height="1"/><rect x="603" y="209" width="2" height="1"/><rect x="597" y="210" width="2" height="1"/><rect x="603" y="210" width="2" height="1"/><rect x="597" y="211" width="2" height="1"/><rect x="603" y="211" width="2" height="1"/><rect x="597" y="212" width="2" height="1"/><rect x="603" y="212" width="2" height="1"/><rect x="597" y="213" width="2" height="1"/><rect x="603" y="213" width="2" height="1"/><rect x="597" y="214" width="2" height="1"/><rect x="603" y="214" width="2" height="1"/><rect x="597" y="215" width="2" height="1"/><rect x="603" y="215" width="2" height="1"/><rect x="597" y="216" width="2" height="1"/><rect x="603" y="216" width="2" height="1"/><rect x="597" y="217" width="2" height="1"/><rect x="603" y="217" width="2" height="1"/><rect x="597" y="218" width="2" height="1"/><rect x="603" y="218" width="2" height="1"/><rect x="597" y="219" width="2" height="1"/><rect x="603" y="219" width="2" height="1"/><rect x="597" y="220" width="2" height="1"/><rect x="603" y="220" width="2" height="1"/><rect x="592" y="224" width="1" height="1"/><rect x="607" y="224" width="1" height="1"/><rect x="592" y="225" width="1" height="1"/><rect x="607" y="225" width="1" height="1"/><rect x="592" y="226" width="2" height="1"/><rect x="607" y="226" width="1" height="1"/><rect x="592" y="227" width="1" height="1"/><rect x="594" y="227" width="1" height="1"/><rect x="606" y="227" width="2" height="1"/><rect x="592" y="228" width="1" height="1"/><rect x="595" y="228" width="1" height="1"/><rect x="605" y="228" width="3" height="1"/><rect x="596" y="229" width="1" height="1"/><rect x="603" y="229" width="3" height="1"/><rect x="607" y="229" width="1" height="1"/><rect x="597" y="230" width="1" height="1"/><rect x="602" y="230" width="3" height="1"/><rect x="598" y="231" width="1" height="1"/><rect x="601" y="231" width="2" height="1"/><rect x="592" y="232" width="1" height="1"/><rect x="599" y="232" width="3" height="1"/><rect x="607" y="232" width="1" height="1"/><rect x="592" y="233" width="1" height="1"/><rect x="599" y="233" width="2" height="1"/><rect x="607" y="233" width="1" height="1"/><rect x="592" y="234" width="16" height="1"/><rect x="592" y="235" width="16" height="1"/><rect x="592" y="236" width="1" height="1"/><rect x="607" y="236" width="1" height="1"/><rect x="592" y="237" width="1" height="1"/><rect x="607" y="237" width="1" height="1"/><rect x="592" y="238" width="1" height="1"/><rect x="607" y="238" width="1" height="1"/></g>
<g fill="#1aff00" shape-rendering="crispEdges"><rect x="603" y="272" width="1" height="1"/><rect x="603" y="273" width="1" height="1"/><rect x="603" y="274" width="1" height="1"/><rect x="607" y="274" width="1" height="1"/><rect x="603" y="275" width="1" height="1"/><rect x="607" y="275" width="1" height="1"/><rect x="592" y="276" width="16" height="1"/><rect x="592" y="277" width="16" height="1"/><rect x="593" y="278" width="1" height="1"/><rect x="603" y="278" width="1" height="1"/><rect x="607" y="278" width="1" height="1"/><rect x="594" y="279" width="2" height="1"/><rect x="603" y="279" width="1" height="1"/><rect x="607" y="279" width="1" height="1"/><rect x="596" y="280" width="2" height="1"/><rect x="603" y="280" width="1" height="1"/><rect x="607" y="280" width="1" height="1"/><rect x="598" y="281" width="1" height="1"/><rect x="603" y="281" width="1" height="1"/><rect x="599" y="282" width="2" height="1"/><rect x="603" y="282" width="1" height="1"/><rect x="601" y="283" width="3" height="1"/><rect x="603" y="284" width="1" height="1"/><rect x="589" y="288" width="1" height="1"/><rect x="612" y="288" width="1" height="1"/><rect x="590" y="289" width="2" height="1"/><rect x="610" y="289" width="2" height="1"/><rect x="592" y="290" width="2" height="1"/><rect x="608" y="290" width="2" height="1"/><rect x="594" y="291" width="2" height="1"/><rect x="606" y="291" width="2" height="1"/><rect x="596" y="292" width="2" height="1"/><rect x="604" y="292" width="2" height="1"/><rect x="598" y="293" width="2" height="1"/><rect x="602" y="293" width="2" height="1"/><rect x="600" y="294" width="2" height="1"/><rect x="592" y="296" width="1" height="1"/><rect x="607" y="296" width="1" height="1"/><rect x="592" y="297" width="1" height="1"/><rect x="607" y="297" width="1" height="1"/><rect x="592" y="298" width="2" height="1"/><rect x="607" y="298" width="1" height="1"/><rect x="592" y="299" width="1" height="1"/><rect x="594" y="299" width="1" height="1"/><rect x="606" y="299" width="2" height="1"/><rect x="592" y="300" width="1" height="1"/><rect x="595" y="300" width="1" height="1"/><rect x="605" y="300" width="3" height="1"/><rect x="596" y="301" width="1" height="1"/><rect x="603" y="301" width="3" height="1"/><rect x="607" y="301" width="1" height="1"/><rect x="597" y="302" width="1" height="1"/><rect x="602" y="302" width="3" height="1"/><rect x="598" y="303" width="1" height="1"/><rect x="601" y="303" width="2" height="1"/><rect x="592" y="304" width="1" height="1"/><rect x="599" y="304" width="3" height="1"/><rect x="607" y="304" width="1" height="1"/><rect x="592" y="305" width="1" height="1"/><rect x="599" y="305" width="2" height="1"/><rect x="607" y="305" width="1" height="1"/><rect x="592" y="306" width="16" height="1"/><rect x="592" y="307" width="16" height="1"/><rect x="592" y="308" width="1" height="1"/><rect x="607" y="308" width="1" height="1"/><rect x="592" y="309" width="1" height="1"/><rect x="607" y="309" width="1" height="1"/><rect x="592" y="310" width="1" height="1"/><rect x="607" y="310" width="1" height="1"/></g>
</svg>
</body></html>
